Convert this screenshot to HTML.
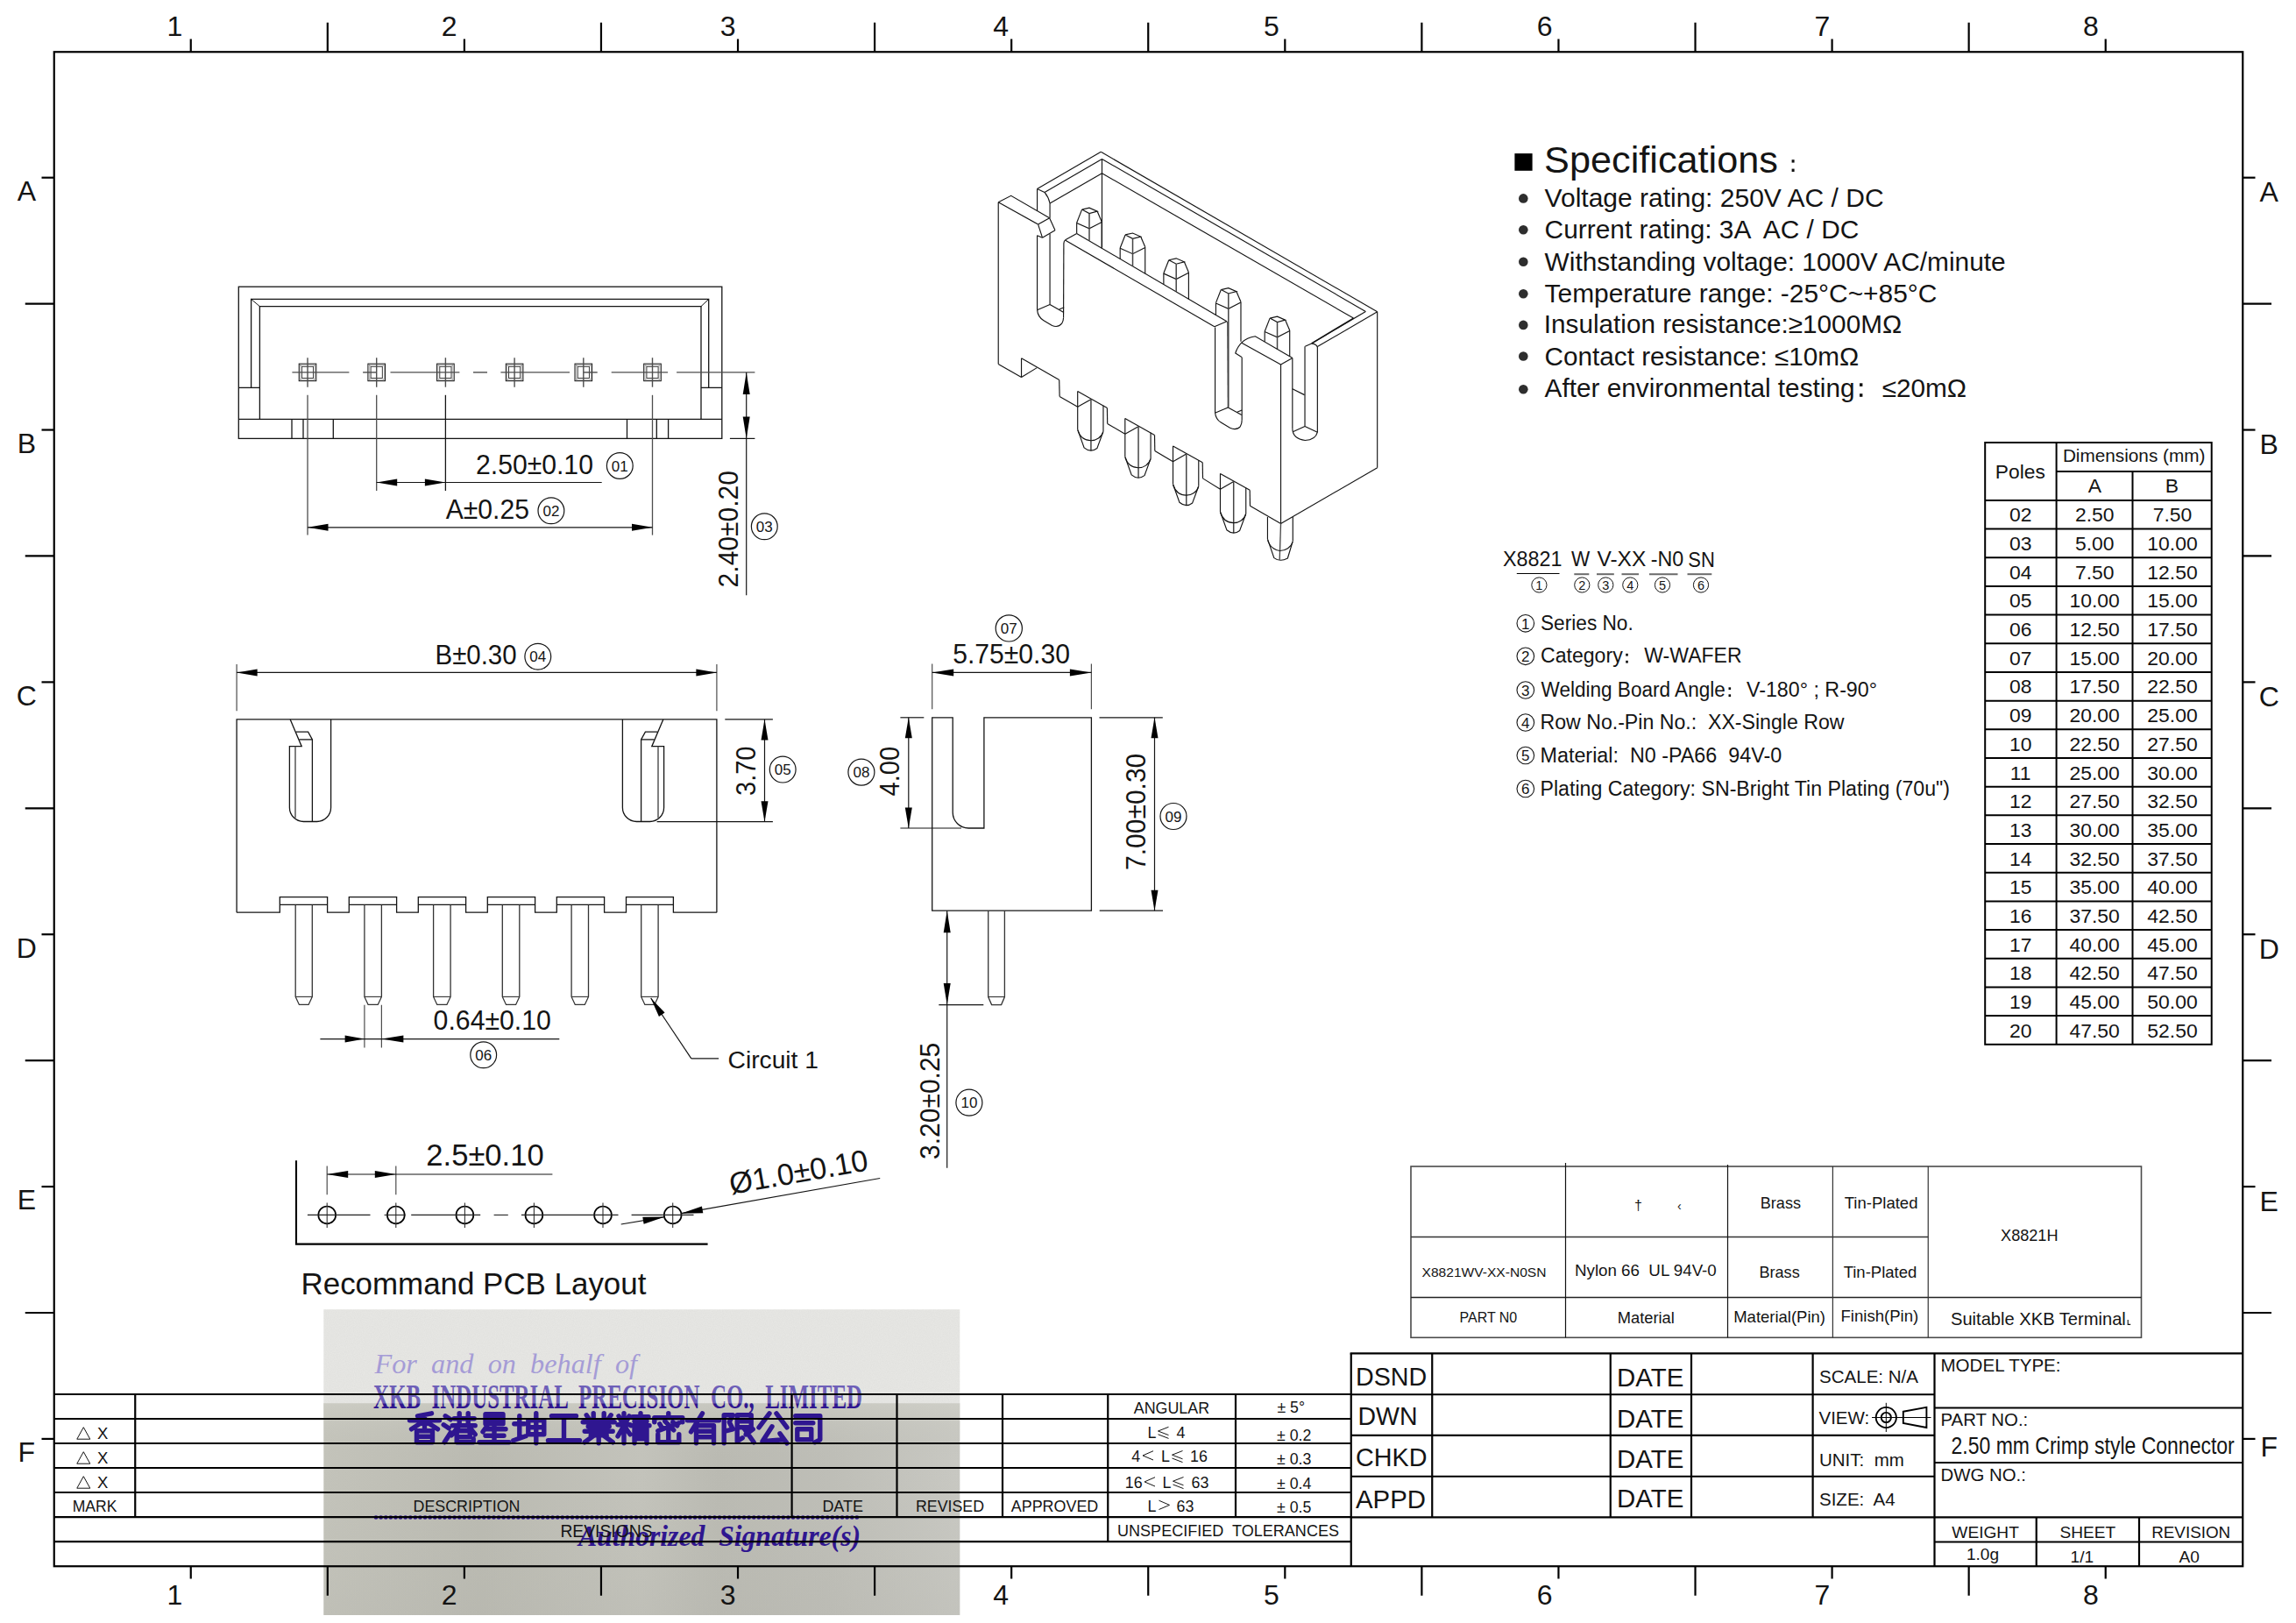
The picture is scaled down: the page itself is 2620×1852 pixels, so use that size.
<!DOCTYPE html>
<html><head><meta charset="utf-8"><title>X8821WV drawing</title>
<style>html,body{margin:0;padding:0;background:#fff;}svg{display:block;font-family:"Liberation Sans",sans-serif;}</style></head>
<body>
<svg width="2620" height="1852" viewBox="0 0 2620 1852">
<rect width="2620" height="1852" fill="#fff"/>
<defs>
<linearGradient id="sg" x1="0" y1="0" x2="1" y2="0"><stop offset="0" stop-color="#c3c3ba"/><stop offset="0.25" stop-color="#babab1"/><stop offset="0.5" stop-color="#c3c3bb"/><stop offset="0.62" stop-color="#babab2"/><stop offset="0.8" stop-color="#bebeb7"/><stop offset="1" stop-color="#c8c8c2"/></linearGradient>
<linearGradient id="sg2" x1="0" y1="0" x2="0" y2="1"><stop offset="0" stop-color="#d2d2ca" stop-opacity="0.55"/><stop offset="0.25" stop-color="#c0c0b8" stop-opacity="0"/><stop offset="1" stop-color="#b4b4ad" stop-opacity="0.25"/></linearGradient>
<filter id="nz" x="0" y="0" width="1" height="1"><feTurbulence type="fractalNoise" baseFrequency="0.9" numOctaves="1" seed="3" result="n"/><feColorMatrix type="matrix" values="0 0 0 0 0.45  0 0 0 0 0.45  0 0 0 0 0.45  0.5 0 0 0 -0.15" /><feComposite operator="in" in2="SourceGraphic"/></filter>
</defs>
<rect x="369.3" y="1494.2" width="726.0" height="107.3" fill="#e6e6e3"/>
<rect x="369.3" y="1494.2" width="726.0" height="107.3" fill="#e6e6e3" filter="url(#nz)" opacity="0.35"/>
<rect x="369.3" y="1601.3" width="726.0" height="241.70000000000005" fill="url(#sg)"/>
<rect x="369.3" y="1601.3" width="726.0" height="241.70000000000005" fill="url(#sg2)"/>
<text x="427.50" y="1567.30" font-size="31" textLength="299.50" lengthAdjust="spacingAndGlyphs" font-family="Liberation Serif, serif" font-style="italic" fill="#a59cd6"  xml:space="preserve">For  and  on  behalf  of</text>
<clipPath id="cu"><rect x="400" y="1570" width="620" height="31.3"/></clipPath><clipPath id="cl"><rect x="400" y="1601.3" width="620" height="20"/></clipPath>
<text x="426.00" y="1607.00" font-size="40" textLength="558.00" lengthAdjust="spacingAndGlyphs" font-family="Liberation Serif, serif" font-weight="bold" fill="#6e5fb8" clip-path="url(#cu)" xml:space="preserve">XKB  INDUSTRIAL  PRECISION  CO.,  LIMITED</text>
<text x="426.00" y="1607.00" font-size="40" textLength="558.00" lengthAdjust="spacingAndGlyphs" font-family="Liberation Serif, serif" font-weight="bold" fill="#2f1690" clip-path="url(#cl)" xml:space="preserve">XKB  INDUSTRIAL  PRECISION  CO.,  LIMITED</text>
<path transform="translate(466.5,1612.8)" d="M10,3 L26,0 M1,8 L35,8 M18,2 L18,18 M17,9 L3,18 M19,9 L33,18 M9,20 L27,20 L27,33 L9,33 Z M9,26.5 L27,26.5" stroke="#2f1690" stroke-width="5.4" stroke-linecap="round" stroke-linejoin="round" fill="none"/>
<path transform="translate(506.2,1612.8)" d="M2,3 L8,7 M0,13 L6,17 M1,33 L8,22 M12,6 L35,6 M10,14 L36,14 M18,0 L18,14 M28,0 L28,14 M18,14 L9,25 M28,14 L36,24 M15,20 L30,20 L30,27 L15,27 Z M15,27 L15,33 L34,33 L34,29" stroke="#2f1690" stroke-width="5.4" stroke-linecap="round" stroke-linejoin="round" fill="none"/>
<path transform="translate(546.0,1612.8)" d="M8,1 L28,1 L28,12 L8,12 Z M8,6.5 L28,6.5 M10,14 L5,21 M8,18 L31,18 M8,25.5 L29,25.5 M1,33 L35,33 M18,13 L18,33" stroke="#2f1690" stroke-width="5.4" stroke-linecap="round" stroke-linejoin="round" fill="none"/>
<path transform="translate(585.8,1612.8)" d="M1,12 L13,12 M7,3 L7,28 M0,31 L14,26 M17,8 L35,8 L35,24 L17,24 Z M17,16 L35,16 M26,0 L26,34" stroke="#2f1690" stroke-width="5.4" stroke-linecap="round" stroke-linejoin="round" fill="none"/>
<path transform="translate(625.5,1612.8)" d="M4,3 L32,3 M18,3 L18,31 M0,31 L36,31" stroke="#2f1690" stroke-width="5.4" stroke-linecap="round" stroke-linejoin="round" fill="none"/>
<path transform="translate(665.2,1612.8)" d="M12,0 L12,10 M24,0 L24,10 M4,2 L8,8 M32,2 L28,8 M0,10 L36,10 M6,15 L30,15 M2,20.5 L34,20.5 M18,10 L18,34 M17,22 L2,33 M19,22 L34,33 M9,25 L27,25" stroke="#2f1690" stroke-width="5.4" stroke-linecap="round" stroke-linejoin="round" fill="none"/>
<path transform="translate(705.0,1612.8)" d="M7,0 L7,34 M0,13 L14,13 M1,3 L4,9 M13,3 L10,9 M7,14 L0,26 M7,14 L14,24 M17,4 L35,4 M19,9 L33,9 M15,14 L36,14 M26,0 L26,14 M19,34 L19,18 L33,18 L33,34 M19,23.5 L33,23.5 M19,29 L33,29" stroke="#2f1690" stroke-width="5.4" stroke-linecap="round" stroke-linejoin="round" fill="none"/>
<path transform="translate(744.8,1612.8)" d="M18,0 L18,4 M2,10 L2,5 L34,5 L34,10 M8,12 L11,17 M14,9 L24,19 M23,10 L28,14 M6,20 L30,11 M18,20 L18,33 M6,24 L6,33 L30,33 L30,24" stroke="#2f1690" stroke-width="5.4" stroke-linecap="round" stroke-linejoin="round" fill="none"/>
<path transform="translate(784.5,1612.8)" d="M0,8 L36,8 M17,0 L4,21 M10,34 L10,14 L30,14 L30,34 M10,20.5 L30,20.5 M10,27 L30,27" stroke="#2f1690" stroke-width="5.4" stroke-linecap="round" stroke-linejoin="round" fill="none"/>
<path transform="translate(824.2,1612.8)" d="M2,2 L2,34 M2,2 L12,2 L8,10 L12,18 L4,20 M17,2 L33,2 L33,16 L17,16 Z M17,9 L33,9 M17,16 L17,32 L23,28 M24,16 L36,33 M35,18 L27,24" stroke="#2f1690" stroke-width="5.4" stroke-linecap="round" stroke-linejoin="round" fill="none"/>
<path transform="translate(864.0,1612.8)" d="M14,0 L2,16 M22,0 L34,16 M17,15 L6,32 L30,30 M26,23 L34,34" stroke="#2f1690" stroke-width="5.4" stroke-linecap="round" stroke-linejoin="round" fill="none"/>
<path transform="translate(903.8,1612.8)" d="M4,3 L32,3 L32,30 L26,33 M4,11 L24,11 M6,18 L22,18 L22,30 L6,30 Z" stroke="#2f1690" stroke-width="5.4" stroke-linecap="round" stroke-linejoin="round" fill="none"/>
<line x1="429" y1="1731.5" x2="982" y2="1731.5" stroke="#2f1690" stroke-width="4.6" stroke-dasharray="0.1 5.5" stroke-linecap="round"/>
<text x="660.00" y="1763.60" font-size="33" textLength="322.00" lengthAdjust="spacingAndGlyphs" font-family="Liberation Serif, serif" font-weight="bold" font-style="italic" fill="#2f1690"  xml:space="preserve">Authorized  Signature(s)</text>
<rect x="61.75" y="59.25" width="2497.50" height="1728.00" stroke="#000" stroke-width="2.2" fill="none"/>
<line x1="217.75" y1="44.50" x2="217.75" y2="59.25" stroke="#000" stroke-width="2.2" />
<line x1="217.75" y1="1787.25" x2="217.75" y2="1801.50" stroke="#000" stroke-width="2.2" />
<text x="190.56" y="40.60" font-size="32" fill="#141414"  xml:space="preserve">1</text>
<text x="190.56" y="1830.90" font-size="32" fill="#141414"  xml:space="preserve">1</text>
<line x1="373.82" y1="25.75" x2="373.82" y2="59.25" stroke="#000" stroke-width="2.2" />
<line x1="373.82" y1="1787.25" x2="373.82" y2="1820.75" stroke="#000" stroke-width="2.2" />
<line x1="529.89" y1="44.50" x2="529.89" y2="59.25" stroke="#000" stroke-width="2.2" />
<line x1="529.89" y1="1787.25" x2="529.89" y2="1801.50" stroke="#000" stroke-width="2.2" />
<text x="503.65" y="40.60" font-size="32" fill="#141414"  xml:space="preserve">2</text>
<text x="503.65" y="1830.90" font-size="32" fill="#141414"  xml:space="preserve">2</text>
<line x1="685.96" y1="25.75" x2="685.96" y2="59.25" stroke="#000" stroke-width="2.2" />
<line x1="685.96" y1="1787.25" x2="685.96" y2="1820.75" stroke="#000" stroke-width="2.2" />
<line x1="842.03" y1="44.50" x2="842.03" y2="59.25" stroke="#000" stroke-width="2.2" />
<line x1="842.03" y1="1787.25" x2="842.03" y2="1801.50" stroke="#000" stroke-width="2.2" />
<text x="821.70" y="40.60" font-size="32" fill="#141414"  xml:space="preserve">3</text>
<text x="821.70" y="1830.90" font-size="32" fill="#141414"  xml:space="preserve">3</text>
<line x1="998.10" y1="25.75" x2="998.10" y2="59.25" stroke="#000" stroke-width="2.2" />
<line x1="998.10" y1="1787.25" x2="998.10" y2="1820.75" stroke="#000" stroke-width="2.2" />
<line x1="1154.17" y1="44.50" x2="1154.17" y2="59.25" stroke="#000" stroke-width="2.2" />
<line x1="1154.17" y1="1787.25" x2="1154.17" y2="1801.50" stroke="#000" stroke-width="2.2" />
<text x="1133.20" y="40.60" font-size="32" fill="#141414"  xml:space="preserve">4</text>
<text x="1133.20" y="1830.90" font-size="32" fill="#141414"  xml:space="preserve">4</text>
<line x1="1310.24" y1="25.75" x2="1310.24" y2="59.25" stroke="#000" stroke-width="2.2" />
<line x1="1310.24" y1="1787.25" x2="1310.24" y2="1820.75" stroke="#000" stroke-width="2.2" />
<line x1="1466.31" y1="44.50" x2="1466.31" y2="59.25" stroke="#000" stroke-width="2.2" />
<line x1="1466.31" y1="1787.25" x2="1466.31" y2="1801.50" stroke="#000" stroke-width="2.2" />
<text x="1441.93" y="40.60" font-size="32" fill="#141414"  xml:space="preserve">5</text>
<text x="1441.93" y="1830.90" font-size="32" fill="#141414"  xml:space="preserve">5</text>
<line x1="1622.38" y1="25.75" x2="1622.38" y2="59.25" stroke="#000" stroke-width="2.2" />
<line x1="1622.38" y1="1787.25" x2="1622.38" y2="1820.75" stroke="#000" stroke-width="2.2" />
<line x1="1778.45" y1="44.50" x2="1778.45" y2="59.25" stroke="#000" stroke-width="2.2" />
<line x1="1778.45" y1="1787.25" x2="1778.45" y2="1801.50" stroke="#000" stroke-width="2.2" />
<text x="1753.84" y="40.60" font-size="32" fill="#141414"  xml:space="preserve">6</text>
<text x="1753.84" y="1830.90" font-size="32" fill="#141414"  xml:space="preserve">6</text>
<line x1="1934.52" y1="25.75" x2="1934.52" y2="59.25" stroke="#000" stroke-width="2.2" />
<line x1="1934.52" y1="1787.25" x2="1934.52" y2="1820.75" stroke="#000" stroke-width="2.2" />
<line x1="2090.59" y1="44.50" x2="2090.59" y2="59.25" stroke="#000" stroke-width="2.2" />
<line x1="2090.59" y1="1787.25" x2="2090.59" y2="1801.50" stroke="#000" stroke-width="2.2" />
<text x="2070.59" y="40.60" font-size="32" fill="#141414"  xml:space="preserve">7</text>
<text x="2070.59" y="1830.90" font-size="32" fill="#141414"  xml:space="preserve">7</text>
<line x1="2246.66" y1="25.75" x2="2246.66" y2="59.25" stroke="#000" stroke-width="2.2" />
<line x1="2246.66" y1="1787.25" x2="2246.66" y2="1820.75" stroke="#000" stroke-width="2.2" />
<line x1="2402.73" y1="44.50" x2="2402.73" y2="59.25" stroke="#000" stroke-width="2.2" />
<line x1="2402.73" y1="1787.25" x2="2402.73" y2="1801.50" stroke="#000" stroke-width="2.2" />
<text x="2377.00" y="40.60" font-size="32" fill="#141414"  xml:space="preserve">8</text>
<text x="2377.00" y="1830.90" font-size="32" fill="#141414"  xml:space="preserve">8</text>
<line x1="47.50" y1="202.70" x2="61.75" y2="202.70" stroke="#000" stroke-width="2.2" />
<line x1="2559.25" y1="202.70" x2="2573.50" y2="202.70" stroke="#000" stroke-width="2.2" />
<text x="30.30" y="229.00" font-size="32" text-anchor="middle" fill="#141414"  xml:space="preserve">A</text>
<text x="2589.20" y="230.30" font-size="32" text-anchor="middle" fill="#141414"  xml:space="preserve">A</text>
<line x1="28.75" y1="346.62" x2="61.75" y2="346.62" stroke="#000" stroke-width="2.2" />
<line x1="2559.25" y1="346.62" x2="2592.00" y2="346.62" stroke="#000" stroke-width="2.2" />
<line x1="47.50" y1="490.54" x2="61.75" y2="490.54" stroke="#000" stroke-width="2.2" />
<line x1="2559.25" y1="490.54" x2="2573.50" y2="490.54" stroke="#000" stroke-width="2.2" />
<text x="30.30" y="516.84" font-size="32" text-anchor="middle" fill="#141414"  xml:space="preserve">B</text>
<text x="2589.20" y="518.14" font-size="32" text-anchor="middle" fill="#141414"  xml:space="preserve">B</text>
<line x1="28.75" y1="634.46" x2="61.75" y2="634.46" stroke="#000" stroke-width="2.2" />
<line x1="2559.25" y1="634.46" x2="2592.00" y2="634.46" stroke="#000" stroke-width="2.2" />
<line x1="47.50" y1="778.38" x2="61.75" y2="778.38" stroke="#000" stroke-width="2.2" />
<line x1="2559.25" y1="778.38" x2="2573.50" y2="778.38" stroke="#000" stroke-width="2.2" />
<text x="30.30" y="804.68" font-size="32" text-anchor="middle" fill="#141414"  xml:space="preserve">C</text>
<text x="2589.20" y="805.98" font-size="32" text-anchor="middle" fill="#141414"  xml:space="preserve">C</text>
<line x1="28.75" y1="922.30" x2="61.75" y2="922.30" stroke="#000" stroke-width="2.2" />
<line x1="2559.25" y1="922.30" x2="2592.00" y2="922.30" stroke="#000" stroke-width="2.2" />
<line x1="47.50" y1="1066.22" x2="61.75" y2="1066.22" stroke="#000" stroke-width="2.2" />
<line x1="2559.25" y1="1066.22" x2="2573.50" y2="1066.22" stroke="#000" stroke-width="2.2" />
<text x="30.30" y="1092.52" font-size="32" text-anchor="middle" fill="#141414"  xml:space="preserve">D</text>
<text x="2589.20" y="1093.82" font-size="32" text-anchor="middle" fill="#141414"  xml:space="preserve">D</text>
<line x1="28.75" y1="1210.14" x2="61.75" y2="1210.14" stroke="#000" stroke-width="2.2" />
<line x1="2559.25" y1="1210.14" x2="2592.00" y2="1210.14" stroke="#000" stroke-width="2.2" />
<line x1="47.50" y1="1354.06" x2="61.75" y2="1354.06" stroke="#000" stroke-width="2.2" />
<line x1="2559.25" y1="1354.06" x2="2573.50" y2="1354.06" stroke="#000" stroke-width="2.2" />
<text x="30.30" y="1380.36" font-size="32" text-anchor="middle" fill="#141414"  xml:space="preserve">E</text>
<text x="2589.20" y="1381.66" font-size="32" text-anchor="middle" fill="#141414"  xml:space="preserve">E</text>
<line x1="28.75" y1="1497.98" x2="61.75" y2="1497.98" stroke="#000" stroke-width="2.2" />
<line x1="2559.25" y1="1497.98" x2="2592.00" y2="1497.98" stroke="#000" stroke-width="2.2" />
<line x1="47.50" y1="1641.90" x2="61.75" y2="1641.90" stroke="#000" stroke-width="2.2" />
<line x1="2559.25" y1="1641.90" x2="2573.50" y2="1641.90" stroke="#000" stroke-width="2.2" />
<text x="30.30" y="1668.20" font-size="32" text-anchor="middle" fill="#141414"  xml:space="preserve">F</text>
<text x="2589.20" y="1662.20" font-size="32" text-anchor="middle" fill="#141414"  xml:space="preserve">F</text>
<line x1="61.75" y1="1591.00" x2="1541.75" y2="1591.00" stroke="#000" stroke-width="2.2" />
<line x1="61.75" y1="1619.00" x2="1541.75" y2="1619.00" stroke="#000" stroke-width="2.2" />
<line x1="61.75" y1="1647.00" x2="1541.75" y2="1647.00" stroke="#000" stroke-width="2.2" />
<line x1="61.75" y1="1675.00" x2="1541.75" y2="1675.00" stroke="#000" stroke-width="2.2" />
<line x1="61.75" y1="1703.00" x2="1541.75" y2="1703.00" stroke="#000" stroke-width="2.2" />
<line x1="61.75" y1="1731.20" x2="1541.75" y2="1731.20" stroke="#000" stroke-width="2.2" />
<line x1="61.75" y1="1759.20" x2="1541.75" y2="1759.20" stroke="#000" stroke-width="2.2" />
<line x1="154.25" y1="1591.00" x2="154.25" y2="1731.20" stroke="#000" stroke-width="2.2" />
<line x1="903.60" y1="1591.00" x2="903.60" y2="1731.20" stroke="#000" stroke-width="2.2" />
<line x1="1023.50" y1="1591.00" x2="1023.50" y2="1731.20" stroke="#000" stroke-width="2.2" />
<line x1="1144.00" y1="1591.00" x2="1144.00" y2="1731.20" stroke="#000" stroke-width="2.2" />
<line x1="1410.00" y1="1591.00" x2="1410.00" y2="1731.20" stroke="#000" stroke-width="2.2" />
<line x1="1264.25" y1="1591.00" x2="1264.25" y2="1759.20" stroke="#000" stroke-width="2.2" />
<path d="M87.80,1642.20 L95.30,1628.70 L102.80,1642.20 Z" stroke="#141414" stroke-width="1.0" fill="none" />
<text x="111.00" y="1642.40" font-size="18.5" fill="#141414"  xml:space="preserve">X</text>
<path d="M87.80,1670.20 L95.30,1656.70 L102.80,1670.20 Z" stroke="#141414" stroke-width="1.0" fill="none" />
<text x="111.00" y="1670.40" font-size="18.5" fill="#141414"  xml:space="preserve">X</text>
<path d="M87.80,1698.20 L95.30,1684.70 L102.80,1698.20 Z" stroke="#141414" stroke-width="1.0" fill="none" />
<text x="111.00" y="1698.40" font-size="18.5" fill="#141414"  xml:space="preserve">X</text>
<text x="108.00" y="1725.00" font-size="17.7" text-anchor="middle" textLength="50.75" lengthAdjust="spacingAndGlyphs" fill="#141414"  xml:space="preserve">MARK</text>
<text x="532.50" y="1724.90" font-size="17.85" text-anchor="middle" textLength="122.00" lengthAdjust="spacingAndGlyphs" fill="#141414"  xml:space="preserve">DESCRIPTION</text>
<text x="961.70" y="1725.00" font-size="17.6" text-anchor="middle" textLength="46.60" lengthAdjust="spacingAndGlyphs" fill="#141414"  xml:space="preserve">DATE</text>
<text x="1084.00" y="1724.60" font-size="17.8" text-anchor="middle" textLength="78.00" lengthAdjust="spacingAndGlyphs" fill="#141414"  xml:space="preserve">REVISED</text>
<text x="1203.50" y="1724.60" font-size="17.9" text-anchor="middle" textLength="99.50" lengthAdjust="spacingAndGlyphs" fill="#141414"  xml:space="preserve">APPROVED</text>
<text x="692.00" y="1753.50" font-size="19.3" text-anchor="middle" textLength="105.10" lengthAdjust="spacingAndGlyphs" fill="#141414"  xml:space="preserve">REVISIONS</text>
<text x="1336.90" y="1612.60" font-size="17.85" text-anchor="middle" textLength="86.25" lengthAdjust="spacingAndGlyphs" fill="#141414"  xml:space="preserve">ANGULAR</text>
<text x="1457.50" y="1612.00" font-size="18" textLength="31.50" lengthAdjust="spacingAndGlyphs" fill="#141414"  xml:space="preserve">± 5°</text>
<text x="1309.50" y="1640.80" font-size="17.85" fill="#141414"  xml:space="preserve">L</text>
<path d="M1333.50,1628.30 L1321.50,1633.00 L1333.50,1637.60 M1321.50,1636.80 L1333.50,1641.40" stroke="#141414" stroke-width="1.0" fill="none" />
<text x="1342.50" y="1640.80" font-size="17.85" fill="#141414"  xml:space="preserve">4</text>
<text x="1457.00" y="1643.80" font-size="18" textLength="39.30" lengthAdjust="spacingAndGlyphs" fill="#141414"  xml:space="preserve">± 0.2</text>
<text x="1291.30" y="1668.00" font-size="17.85" fill="#141414"  xml:space="preserve">4</text>
<path d="M1316.00,1655.70 L1304.00,1660.90 L1316.00,1666.00" stroke="#141414" stroke-width="1.0" fill="none" />
<text x="1325.00" y="1668.00" font-size="17.85" fill="#141414"  xml:space="preserve">L</text>
<path d="M1349.50,1655.50 L1337.50,1660.20 L1349.50,1664.80 M1337.50,1664.00 L1349.50,1668.60" stroke="#141414" stroke-width="1.0" fill="none" />
<text x="1358.00" y="1668.00" font-size="17.85" fill="#141414"  xml:space="preserve">16</text>
<text x="1457.00" y="1671.30" font-size="18" textLength="39.30" lengthAdjust="spacingAndGlyphs" fill="#141414"  xml:space="preserve">± 0.3</text>
<text x="1283.80" y="1698.00" font-size="17.85" fill="#141414"  xml:space="preserve">16</text>
<path d="M1318.00,1685.70 L1306.00,1690.90 L1318.00,1696.00" stroke="#141414" stroke-width="1.0" fill="none" />
<text x="1326.50" y="1698.00" font-size="17.85" fill="#141414"  xml:space="preserve">L</text>
<path d="M1350.50,1685.50 L1338.50,1690.20 L1350.50,1694.80 M1338.50,1694.00 L1350.50,1698.60" stroke="#141414" stroke-width="1.0" fill="none" />
<text x="1359.50" y="1698.00" font-size="17.85" fill="#141414"  xml:space="preserve">63</text>
<text x="1457.00" y="1698.80" font-size="18" textLength="39.30" lengthAdjust="spacingAndGlyphs" fill="#141414"  xml:space="preserve">± 0.4</text>
<text x="1309.50" y="1724.50" font-size="17.85" fill="#141414"  xml:space="preserve">L</text>
<path d="M1322.50,1712.20 L1334.50,1717.40 L1322.50,1722.50" stroke="#141414" stroke-width="1.0" fill="none" />
<text x="1342.50" y="1724.50" font-size="17.85" fill="#141414"  xml:space="preserve">63</text>
<text x="1457.00" y="1725.50" font-size="18" textLength="39.30" lengthAdjust="spacingAndGlyphs" fill="#141414"  xml:space="preserve">± 0.5</text>
<text x="1275.00" y="1753.30" font-size="18" textLength="253.00" lengthAdjust="spacingAndGlyphs" fill="#141414"  xml:space="preserve">UNSPECIFIED  TOLERANCES</text>
<line x1="1541.75" y1="1544.30" x2="1541.75" y2="1787.25" stroke="#000" stroke-width="2.2" />
<line x1="1540.65" y1="1544.30" x2="2559.25" y2="1544.30" stroke="#000" stroke-width="2.2" />
<line x1="1541.75" y1="1591.25" x2="2207.50" y2="1591.25" stroke="#000" stroke-width="2.2" />
<line x1="1541.75" y1="1637.90" x2="2207.50" y2="1637.90" stroke="#000" stroke-width="2.2" />
<line x1="1541.75" y1="1684.75" x2="2207.50" y2="1684.75" stroke="#000" stroke-width="2.2" />
<line x1="1541.75" y1="1731.40" x2="2207.50" y2="1731.40" stroke="#000" stroke-width="2.2" />
<line x1="1634.25" y1="1544.30" x2="1634.25" y2="1731.40" stroke="#000" stroke-width="2.2" />
<line x1="1837.75" y1="1544.30" x2="1837.75" y2="1731.40" stroke="#000" stroke-width="2.2" />
<line x1="1930.00" y1="1544.30" x2="1930.00" y2="1731.40" stroke="#000" stroke-width="2.2" />
<line x1="2068.60" y1="1544.30" x2="2068.60" y2="1731.40" stroke="#000" stroke-width="2.2" />
<line x1="2207.50" y1="1544.30" x2="2207.50" y2="1787.25" stroke="#000" stroke-width="2.2" />
<text x="1547.00" y="1580.80" font-size="28.6" textLength="81.25" lengthAdjust="spacingAndGlyphs" fill="#141414"  xml:space="preserve">DSND</text>
<text x="1549.50" y="1626.30" font-size="28.6" textLength="68.00" lengthAdjust="spacingAndGlyphs" fill="#141414"  xml:space="preserve">DWN</text>
<text x="1547.00" y="1673.30" font-size="28.6" textLength="81.50" lengthAdjust="spacingAndGlyphs" fill="#141414"  xml:space="preserve">CHKD</text>
<text x="1547.00" y="1720.80" font-size="28.6" textLength="80.00" lengthAdjust="spacingAndGlyphs" fill="#141414"  xml:space="preserve">APPD</text>
<text x="1845.00" y="1581.80" font-size="28.6" textLength="76.25" lengthAdjust="spacingAndGlyphs" fill="#141414"  xml:space="preserve">DATE</text>
<text x="1845.00" y="1628.80" font-size="28.6" textLength="76.25" lengthAdjust="spacingAndGlyphs" fill="#141414"  xml:space="preserve">DATE</text>
<text x="1845.00" y="1675.00" font-size="28.6" textLength="76.25" lengthAdjust="spacingAndGlyphs" fill="#141414"  xml:space="preserve">DATE</text>
<text x="1845.00" y="1720.20" font-size="28.6" textLength="76.25" lengthAdjust="spacingAndGlyphs" fill="#141414"  xml:space="preserve">DATE</text>
<text x="2076.00" y="1577.50" font-size="20.5" textLength="113.00" lengthAdjust="spacingAndGlyphs" fill="#141414"  xml:space="preserve">SCALE: N/A</text>
<text x="2075.50" y="1624.50" font-size="20.5" fill="#141414"  xml:space="preserve">VIEW:</text>
<text x="2076.00" y="1672.80" font-size="20.5" fill="#141414"  xml:space="preserve">UNIT:  mm</text>
<text x="2076.00" y="1717.80" font-size="20.5" fill="#141414"  xml:space="preserve">SIZE:  A4</text>
<circle cx="2152.30" cy="1617.50" r="11.60" stroke="#000" stroke-width="1.9" fill="none"/>
<circle cx="2152.30" cy="1617.50" r="5.60" stroke="#000" stroke-width="1.9" fill="none"/>
<line x1="2136.00" y1="1617.50" x2="2203.50" y2="1617.50" stroke="#000" stroke-width="1.0" />
<line x1="2152.30" y1="1600.80" x2="2152.30" y2="1634.00" stroke="#000" stroke-width="1.0" />
<path d="M2171.80,1610.80 L2198.40,1605.80 L2198.40,1629.00 L2171.80,1624.00 Z" stroke="#000" stroke-width="1.9" fill="none" />
<line x1="2207.50" y1="1606.50" x2="2559.25" y2="1606.50" stroke="#000" stroke-width="2.2" />
<line x1="2207.50" y1="1669.00" x2="2559.25" y2="1669.00" stroke="#000" stroke-width="2.2" />
<line x1="2207.50" y1="1731.40" x2="2559.25" y2="1731.40" stroke="#000" stroke-width="2.2" />
<line x1="2207.50" y1="1759.50" x2="2559.25" y2="1759.50" stroke="#000" stroke-width="2.2" />
<line x1="2323.75" y1="1731.40" x2="2323.75" y2="1787.25" stroke="#000" stroke-width="2.2" />
<line x1="2441.00" y1="1731.40" x2="2441.00" y2="1787.25" stroke="#000" stroke-width="2.2" />
<text x="2214.50" y="1564.50" font-size="20.4" textLength="137.00" lengthAdjust="spacingAndGlyphs" fill="#141414"  xml:space="preserve">MODEL TYPE:</text>
<text x="2214.50" y="1626.50" font-size="20.4" fill="#141414"  xml:space="preserve">PART NO.:</text>
<text x="2226.50" y="1659.00" font-size="27.5" textLength="323.25" lengthAdjust="spacingAndGlyphs" fill="#141414"  xml:space="preserve">2.50 mm Crimp style Connector</text>
<text x="2214.50" y="1690.30" font-size="20.4" fill="#141414"  xml:space="preserve">DWG NO.:</text>
<text x="2265.60" y="1755.00" font-size="19.1" text-anchor="middle" textLength="76.50" lengthAdjust="spacingAndGlyphs" fill="#141414"  xml:space="preserve">WEIGHT</text>
<text x="2382.40" y="1755.00" font-size="19.1" text-anchor="middle" fill="#141414"  xml:space="preserve">SHEET</text>
<text x="2500.20" y="1755.00" font-size="18.9" text-anchor="middle" textLength="90.00" lengthAdjust="spacingAndGlyphs" fill="#141414"  xml:space="preserve">REVISION</text>
<text x="2262.50" y="1779.50" font-size="19.1" text-anchor="middle" fill="#141414"  xml:space="preserve">1.0g</text>
<text x="2375.80" y="1783.20" font-size="19.1" text-anchor="middle" fill="#141414"  xml:space="preserve">1/1</text>
<text x="2498.30" y="1783.00" font-size="19.1" text-anchor="middle" fill="#141414"  xml:space="preserve">A0</text>
<rect x="1610.00" y="1331.00" width="833.50" height="195.30" stroke="#4a4a4a" stroke-width="1.6" fill="none"/>
<line x1="1610.00" y1="1411.50" x2="2200.25" y2="1411.50" stroke="#333" stroke-width="1.3" />
<line x1="1610.00" y1="1480.50" x2="2443.50" y2="1480.50" stroke="#222" stroke-width="1.3" />
<line x1="1786.50" y1="1327.00" x2="1786.50" y2="1526.30" stroke="#111" stroke-width="1.2" />
<line x1="1971.50" y1="1329.00" x2="1971.50" y2="1526.30" stroke="#111" stroke-width="1.2" />
<line x1="2091.40" y1="1331.00" x2="2091.40" y2="1526.30" stroke="#333" stroke-width="1.2" />
<line x1="2200.25" y1="1331.00" x2="2200.25" y2="1526.30" stroke="#333" stroke-width="1.2" />
<text x="1865.00" y="1380.80" font-size="16" fill="#141414"  xml:space="preserve">†</text>
<text x="1914.00" y="1380.50" font-size="14" fill="#141414"  xml:space="preserve">‹</text>
<text x="2031.90" y="1378.80" font-size="18.2" text-anchor="middle" textLength="46.25" lengthAdjust="spacingAndGlyphs" fill="#141414"  xml:space="preserve">Brass</text>
<text x="2146.60" y="1378.80" font-size="18.4" text-anchor="middle" textLength="83.75" lengthAdjust="spacingAndGlyphs" fill="#141414"  xml:space="preserve">Tin-Plated</text>
<text x="2315.80" y="1415.80" font-size="18.1" text-anchor="middle" textLength="65.50" lengthAdjust="spacingAndGlyphs" fill="#141414"  xml:space="preserve">X8821H</text>
<text x="1693.50" y="1457.00" font-size="15.5" text-anchor="middle" textLength="142.00" lengthAdjust="spacingAndGlyphs" fill="#141414"  xml:space="preserve">X8821WV-XX-N0SN</text>
<text x="1877.90" y="1455.80" font-size="18.5" text-anchor="middle" textLength="161.75" lengthAdjust="spacingAndGlyphs" fill="#141414"  xml:space="preserve">Nylon 66  UL 94V-0</text>
<text x="2030.60" y="1458.00" font-size="18.2" text-anchor="middle" textLength="46.25" lengthAdjust="spacingAndGlyphs" fill="#141414"  xml:space="preserve">Brass</text>
<text x="2145.50" y="1458.00" font-size="18.4" text-anchor="middle" textLength="83.75" lengthAdjust="spacingAndGlyphs" fill="#141414"  xml:space="preserve">Tin-Plated</text>
<text x="1698.40" y="1509.30" font-size="15.6" text-anchor="middle" textLength="65.75" lengthAdjust="spacingAndGlyphs" fill="#141414"  xml:space="preserve">PART N0</text>
<text x="1878.30" y="1510.00" font-size="18.3" text-anchor="middle" textLength="65.00" lengthAdjust="spacingAndGlyphs" fill="#141414"  xml:space="preserve">Material</text>
<text x="2030.60" y="1508.80" font-size="18.5" text-anchor="middle" textLength="104.75" lengthAdjust="spacingAndGlyphs" fill="#141414"  xml:space="preserve">Material(Pin)</text>
<text x="2144.90" y="1508.30" font-size="18.5" text-anchor="middle" textLength="88.75" lengthAdjust="spacingAndGlyphs" fill="#141414"  xml:space="preserve">Finish(Pin)</text>
<text x="2226.00" y="1512.00" font-size="20.2" textLength="199.80" lengthAdjust="spacingAndGlyphs" fill="#141414"  xml:space="preserve">Suitable XKB Terminal</text>
<path d="M2428.2,1506 L2428.2,1511.4 L2431.2,1511.4" stroke="#141414" stroke-width="1.1" fill="none" />
<rect x="2265.20" y="505.00" width="258.50" height="686.80" stroke="#000" stroke-width="2.0" fill="none"/>
<line x1="2346.60" y1="505.00" x2="2346.60" y2="1191.80" stroke="#000" stroke-width="2.0" />
<line x1="2433.50" y1="538.00" x2="2433.50" y2="1191.80" stroke="#000" stroke-width="2.0" />
<line x1="2346.60" y1="538.00" x2="2523.70" y2="538.00" stroke="#000" stroke-width="2.0" />
<line x1="2265.20" y1="570.90" x2="2523.70" y2="570.90" stroke="#000" stroke-width="2.0" />
<line x1="2265.20" y1="603.58" x2="2523.70" y2="603.58" stroke="#000" stroke-width="2.0" />
<line x1="2265.20" y1="636.26" x2="2523.70" y2="636.26" stroke="#000" stroke-width="2.0" />
<line x1="2265.20" y1="668.94" x2="2523.70" y2="668.94" stroke="#000" stroke-width="2.0" />
<line x1="2265.20" y1="701.62" x2="2523.70" y2="701.62" stroke="#000" stroke-width="2.0" />
<line x1="2265.20" y1="734.29" x2="2523.70" y2="734.29" stroke="#000" stroke-width="2.0" />
<line x1="2265.20" y1="766.97" x2="2523.70" y2="766.97" stroke="#000" stroke-width="2.0" />
<line x1="2265.20" y1="799.65" x2="2523.70" y2="799.65" stroke="#000" stroke-width="2.0" />
<line x1="2265.20" y1="832.33" x2="2523.70" y2="832.33" stroke="#000" stroke-width="2.0" />
<line x1="2265.20" y1="865.01" x2="2523.70" y2="865.01" stroke="#000" stroke-width="2.0" />
<line x1="2265.20" y1="897.69" x2="2523.70" y2="897.69" stroke="#000" stroke-width="2.0" />
<line x1="2265.20" y1="930.37" x2="2523.70" y2="930.37" stroke="#000" stroke-width="2.0" />
<line x1="2265.20" y1="963.05" x2="2523.70" y2="963.05" stroke="#000" stroke-width="2.0" />
<line x1="2265.20" y1="995.73" x2="2523.70" y2="995.73" stroke="#000" stroke-width="2.0" />
<line x1="2265.20" y1="1028.41" x2="2523.70" y2="1028.41" stroke="#000" stroke-width="2.0" />
<line x1="2265.20" y1="1061.08" x2="2523.70" y2="1061.08" stroke="#000" stroke-width="2.0" />
<line x1="2265.20" y1="1093.76" x2="2523.70" y2="1093.76" stroke="#000" stroke-width="2.0" />
<line x1="2265.20" y1="1126.44" x2="2523.70" y2="1126.44" stroke="#000" stroke-width="2.0" />
<line x1="2265.20" y1="1159.12" x2="2523.70" y2="1159.12" stroke="#000" stroke-width="2.0" />
<text x="2305.30" y="546.20" font-size="22.8" text-anchor="middle" textLength="57.00" lengthAdjust="spacingAndGlyphs" fill="#141414"  xml:space="preserve">Poles</text>
<text x="2435.15" y="526.70" font-size="20.7" text-anchor="middle" textLength="162.50" lengthAdjust="spacingAndGlyphs" fill="#141414"  xml:space="preserve">Dimensions (mm)</text>
<text x="2390.30" y="562.40" font-size="22.9" text-anchor="middle" fill="#141414"  xml:space="preserve">A</text>
<text x="2478.40" y="562.40" font-size="22.9" text-anchor="middle" fill="#141414"  xml:space="preserve">B</text>
<text x="2305.70" y="595.40" font-size="22.9" text-anchor="middle" fill="#141414"  xml:space="preserve">02</text>
<text x="2390.20" y="595.40" font-size="22.9" text-anchor="middle" fill="#141414"  xml:space="preserve">2.50</text>
<text x="2479.00" y="595.40" font-size="22.9" text-anchor="middle" fill="#141414"  xml:space="preserve">7.50</text>
<text x="2305.70" y="628.08" font-size="22.9" text-anchor="middle" fill="#141414"  xml:space="preserve">03</text>
<text x="2390.20" y="628.08" font-size="22.9" text-anchor="middle" fill="#141414"  xml:space="preserve">5.00</text>
<text x="2479.00" y="628.08" font-size="22.9" text-anchor="middle" fill="#141414"  xml:space="preserve">10.00</text>
<text x="2305.70" y="660.76" font-size="22.9" text-anchor="middle" fill="#141414"  xml:space="preserve">04</text>
<text x="2390.20" y="660.76" font-size="22.9" text-anchor="middle" fill="#141414"  xml:space="preserve">7.50</text>
<text x="2479.00" y="660.76" font-size="22.9" text-anchor="middle" fill="#141414"  xml:space="preserve">12.50</text>
<text x="2305.70" y="693.44" font-size="22.9" text-anchor="middle" fill="#141414"  xml:space="preserve">05</text>
<text x="2390.20" y="693.44" font-size="22.9" text-anchor="middle" fill="#141414"  xml:space="preserve">10.00</text>
<text x="2479.00" y="693.44" font-size="22.9" text-anchor="middle" fill="#141414"  xml:space="preserve">15.00</text>
<text x="2305.70" y="726.12" font-size="22.9" text-anchor="middle" fill="#141414"  xml:space="preserve">06</text>
<text x="2390.20" y="726.12" font-size="22.9" text-anchor="middle" fill="#141414"  xml:space="preserve">12.50</text>
<text x="2479.00" y="726.12" font-size="22.9" text-anchor="middle" fill="#141414"  xml:space="preserve">17.50</text>
<text x="2305.70" y="758.79" font-size="22.9" text-anchor="middle" fill="#141414"  xml:space="preserve">07</text>
<text x="2390.20" y="758.79" font-size="22.9" text-anchor="middle" fill="#141414"  xml:space="preserve">15.00</text>
<text x="2479.00" y="758.79" font-size="22.9" text-anchor="middle" fill="#141414"  xml:space="preserve">20.00</text>
<text x="2305.70" y="791.47" font-size="22.9" text-anchor="middle" fill="#141414"  xml:space="preserve">08</text>
<text x="2390.20" y="791.47" font-size="22.9" text-anchor="middle" fill="#141414"  xml:space="preserve">17.50</text>
<text x="2479.00" y="791.47" font-size="22.9" text-anchor="middle" fill="#141414"  xml:space="preserve">22.50</text>
<text x="2305.70" y="824.15" font-size="22.9" text-anchor="middle" fill="#141414"  xml:space="preserve">09</text>
<text x="2390.20" y="824.15" font-size="22.9" text-anchor="middle" fill="#141414"  xml:space="preserve">20.00</text>
<text x="2479.00" y="824.15" font-size="22.9" text-anchor="middle" fill="#141414"  xml:space="preserve">25.00</text>
<text x="2305.70" y="856.83" font-size="22.9" text-anchor="middle" fill="#141414"  xml:space="preserve">10</text>
<text x="2390.20" y="856.83" font-size="22.9" text-anchor="middle" fill="#141414"  xml:space="preserve">22.50</text>
<text x="2479.00" y="856.83" font-size="22.9" text-anchor="middle" fill="#141414"  xml:space="preserve">27.50</text>
<text x="2305.70" y="889.51" font-size="22.9" text-anchor="middle" fill="#141414"  xml:space="preserve">11</text>
<text x="2390.20" y="889.51" font-size="22.9" text-anchor="middle" fill="#141414"  xml:space="preserve">25.00</text>
<text x="2479.00" y="889.51" font-size="22.9" text-anchor="middle" fill="#141414"  xml:space="preserve">30.00</text>
<text x="2305.70" y="922.19" font-size="22.9" text-anchor="middle" fill="#141414"  xml:space="preserve">12</text>
<text x="2390.20" y="922.19" font-size="22.9" text-anchor="middle" fill="#141414"  xml:space="preserve">27.50</text>
<text x="2479.00" y="922.19" font-size="22.9" text-anchor="middle" fill="#141414"  xml:space="preserve">32.50</text>
<text x="2305.70" y="954.87" font-size="22.9" text-anchor="middle" fill="#141414"  xml:space="preserve">13</text>
<text x="2390.20" y="954.87" font-size="22.9" text-anchor="middle" fill="#141414"  xml:space="preserve">30.00</text>
<text x="2479.00" y="954.87" font-size="22.9" text-anchor="middle" fill="#141414"  xml:space="preserve">35.00</text>
<text x="2305.70" y="987.55" font-size="22.9" text-anchor="middle" fill="#141414"  xml:space="preserve">14</text>
<text x="2390.20" y="987.55" font-size="22.9" text-anchor="middle" fill="#141414"  xml:space="preserve">32.50</text>
<text x="2479.00" y="987.55" font-size="22.9" text-anchor="middle" fill="#141414"  xml:space="preserve">37.50</text>
<text x="2305.70" y="1020.23" font-size="22.9" text-anchor="middle" fill="#141414"  xml:space="preserve">15</text>
<text x="2390.20" y="1020.23" font-size="22.9" text-anchor="middle" fill="#141414"  xml:space="preserve">35.00</text>
<text x="2479.00" y="1020.23" font-size="22.9" text-anchor="middle" fill="#141414"  xml:space="preserve">40.00</text>
<text x="2305.70" y="1052.91" font-size="22.9" text-anchor="middle" fill="#141414"  xml:space="preserve">16</text>
<text x="2390.20" y="1052.91" font-size="22.9" text-anchor="middle" fill="#141414"  xml:space="preserve">37.50</text>
<text x="2479.00" y="1052.91" font-size="22.9" text-anchor="middle" fill="#141414"  xml:space="preserve">42.50</text>
<text x="2305.70" y="1085.58" font-size="22.9" text-anchor="middle" fill="#141414"  xml:space="preserve">17</text>
<text x="2390.20" y="1085.58" font-size="22.9" text-anchor="middle" fill="#141414"  xml:space="preserve">40.00</text>
<text x="2479.00" y="1085.58" font-size="22.9" text-anchor="middle" fill="#141414"  xml:space="preserve">45.00</text>
<text x="2305.70" y="1118.26" font-size="22.9" text-anchor="middle" fill="#141414"  xml:space="preserve">18</text>
<text x="2390.20" y="1118.26" font-size="22.9" text-anchor="middle" fill="#141414"  xml:space="preserve">42.50</text>
<text x="2479.00" y="1118.26" font-size="22.9" text-anchor="middle" fill="#141414"  xml:space="preserve">47.50</text>
<text x="2305.70" y="1150.94" font-size="22.9" text-anchor="middle" fill="#141414"  xml:space="preserve">19</text>
<text x="2390.20" y="1150.94" font-size="22.9" text-anchor="middle" fill="#141414"  xml:space="preserve">45.00</text>
<text x="2479.00" y="1150.94" font-size="22.9" text-anchor="middle" fill="#141414"  xml:space="preserve">50.00</text>
<text x="2305.70" y="1183.62" font-size="22.9" text-anchor="middle" fill="#141414"  xml:space="preserve">20</text>
<text x="2390.20" y="1183.62" font-size="22.9" text-anchor="middle" fill="#141414"  xml:space="preserve">47.50</text>
<text x="2479.00" y="1183.62" font-size="22.9" text-anchor="middle" fill="#141414"  xml:space="preserve">52.50</text>
<rect x="1728.4" y="175.1" width="20.2" height="19.7" fill="#000"/>
<text x="1762.10" y="196.70" font-size="43.2" textLength="266.80" lengthAdjust="spacingAndGlyphs" fill="#141414"  xml:space="preserve">Specifications</text>
<rect x="2044.6" y="182.2" width="3" height="3.4" fill="#111"/><rect x="2044.6" y="192.6" width="3" height="3.4" fill="#111"/>
<circle cx="1738.3" cy="226.4" r="5.3" fill="#2e2e2e"/>
<text x="1762.60" y="236.40" font-size="29.75" textLength="387.00" lengthAdjust="spacingAndGlyphs" fill="#141414"  xml:space="preserve">Voltage rating: 250V AC / DC</text>
<circle cx="1738.3" cy="262.3" r="5.3" fill="#2e2e2e"/>
<text x="1762.60" y="272.40" font-size="29.75" textLength="358.70" lengthAdjust="spacingAndGlyphs" fill="#141414"  xml:space="preserve">Current rating: 3A  AC / DC</text>
<circle cx="1738.3" cy="298.8" r="5.3" fill="#2e2e2e"/>
<text x="1762.60" y="308.70" font-size="29.75" textLength="526.10" lengthAdjust="spacingAndGlyphs" fill="#141414"  xml:space="preserve">Withstanding voltage: 1000V AC/minute</text>
<circle cx="1738.3" cy="335.2" r="5.3" fill="#2e2e2e"/>
<text x="1762.60" y="345.10" font-size="29.75" textLength="447.80" lengthAdjust="spacingAndGlyphs" fill="#141414"  xml:space="preserve">Temperature range: -25°C~+85°C</text>
<circle cx="1738.3" cy="370.9" r="5.3" fill="#2e2e2e"/>
<text x="1761.80" y="380.40" font-size="29.75" textLength="408.30" lengthAdjust="spacingAndGlyphs" fill="#141414"  xml:space="preserve">Insulation resistance:≥1000MΩ</text>
<circle cx="1738.3" cy="406.5" r="5.3" fill="#2e2e2e"/>
<text x="1762.60" y="416.80" font-size="29.75" textLength="358.70" lengthAdjust="spacingAndGlyphs" fill="#141414"  xml:space="preserve">Contact resistance: ≤10mΩ</text>
<circle cx="1738.3" cy="444.3" r="5.3" fill="#2e2e2e"/>
<text x="1762.60" y="453.20" font-size="29.75" fill="#141414"  xml:space="preserve">After environmental testing</text>
<rect x="2122.0" y="437.3" width="3.4" height="3.6" fill="#111"/><rect x="2122.0" y="449.2" width="3.4" height="3.6" fill="#111"/>
<text x="2244.10" y="453.20" font-size="29.75" text-anchor="end" fill="#141414"  xml:space="preserve">≤20mΩ</text>
<text x="1715.00" y="645.80" font-size="23.3" textLength="67.50" lengthAdjust="spacingAndGlyphs" fill="#141414"  xml:space="preserve">X8821</text>
<text x="1793.00" y="645.80" font-size="23.3" textLength="21.25" lengthAdjust="spacingAndGlyphs" fill="#141414"  xml:space="preserve">W</text>
<text x="1822.50" y="645.80" font-size="23.3" textLength="55.75" lengthAdjust="spacingAndGlyphs" fill="#141414"  xml:space="preserve">V-XX</text>
<text x="1883.80" y="645.80" font-size="23.3" textLength="37.50" lengthAdjust="spacingAndGlyphs" fill="#141414"  xml:space="preserve">-N0</text>
<text x="1926.30" y="647.00" font-size="23" textLength="30.50" lengthAdjust="spacingAndGlyphs" fill="#141414"  xml:space="preserve">SN</text>
<line x1="1730.80" y1="654.50" x2="1779.50" y2="654.50" stroke="#000" stroke-width="1.0" />
<line x1="1796.30" y1="655.20" x2="1813.30" y2="655.20" stroke="#6a6a6a" stroke-width="2.0" />
<line x1="1822.00" y1="655.20" x2="1841.80" y2="655.20" stroke="#6a6a6a" stroke-width="2.0" />
<line x1="1850.50" y1="655.20" x2="1870.00" y2="655.20" stroke="#6a6a6a" stroke-width="2.0" />
<line x1="1882.00" y1="655.20" x2="1914.50" y2="655.20" stroke="#6a6a6a" stroke-width="2.0" />
<line x1="1925.50" y1="655.20" x2="1953.30" y2="655.20" stroke="#6a6a6a" stroke-width="2.0" />
<circle cx="1756.40" cy="667.50" r="8.60" stroke="#141414" stroke-width="1.0" fill="none"/>
<text x="1756.40" y="672.80" font-size="14.5" text-anchor="middle" fill="#141414"  xml:space="preserve">1</text>
<circle cx="1805.30" cy="667.50" r="8.60" stroke="#141414" stroke-width="1.0" fill="none"/>
<text x="1805.30" y="672.80" font-size="14.5" text-anchor="middle" fill="#141414"  xml:space="preserve">2</text>
<circle cx="1832.30" cy="667.50" r="8.60" stroke="#141414" stroke-width="1.0" fill="none"/>
<text x="1832.30" y="672.80" font-size="14.5" text-anchor="middle" fill="#141414"  xml:space="preserve">3</text>
<circle cx="1860.30" cy="667.50" r="8.60" stroke="#141414" stroke-width="1.0" fill="none"/>
<text x="1860.30" y="672.80" font-size="14.5" text-anchor="middle" fill="#141414"  xml:space="preserve">4</text>
<circle cx="1897.00" cy="667.50" r="8.60" stroke="#141414" stroke-width="1.0" fill="none"/>
<text x="1897.00" y="672.80" font-size="14.5" text-anchor="middle" fill="#141414"  xml:space="preserve">5</text>
<circle cx="1941.00" cy="667.50" r="8.60" stroke="#141414" stroke-width="1.0" fill="none"/>
<text x="1941.00" y="672.80" font-size="14.5" text-anchor="middle" fill="#141414"  xml:space="preserve">6</text>
<circle cx="1740.80" cy="711.30" r="9.80" stroke="#141414" stroke-width="1.1" fill="none"/>
<text x="1740.80" y="717.50" font-size="17" text-anchor="middle" fill="#141414"  xml:space="preserve">1</text>
<circle cx="1740.80" cy="748.80" r="9.80" stroke="#141414" stroke-width="1.1" fill="none"/>
<text x="1740.80" y="755.00" font-size="17" text-anchor="middle" fill="#141414"  xml:space="preserve">2</text>
<circle cx="1740.80" cy="787.50" r="9.80" stroke="#141414" stroke-width="1.1" fill="none"/>
<text x="1740.80" y="793.70" font-size="17" text-anchor="middle" fill="#141414"  xml:space="preserve">3</text>
<circle cx="1740.80" cy="824.50" r="9.80" stroke="#141414" stroke-width="1.1" fill="none"/>
<text x="1740.80" y="830.70" font-size="17" text-anchor="middle" fill="#141414"  xml:space="preserve">4</text>
<circle cx="1740.80" cy="862.00" r="9.80" stroke="#141414" stroke-width="1.1" fill="none"/>
<text x="1740.80" y="868.20" font-size="17" text-anchor="middle" fill="#141414"  xml:space="preserve">5</text>
<circle cx="1740.80" cy="900.00" r="9.80" stroke="#141414" stroke-width="1.1" fill="none"/>
<text x="1740.80" y="906.20" font-size="17" text-anchor="middle" fill="#141414"  xml:space="preserve">6</text>
<text x="1758.00" y="719.00" font-size="23.1" textLength="105.75" lengthAdjust="spacingAndGlyphs" fill="#141414"  xml:space="preserve">Series No.</text>
<text x="1758.00" y="756.40" font-size="23.1" fill="#141414"  xml:space="preserve">Category</text>
<rect x="1855.2" y="745.8" width="2.6" height="2.8" fill="#111"/><rect x="1855.2" y="753.8" width="2.6" height="2.8" fill="#111"/>
<text x="1876.30" y="756.40" font-size="23.1" textLength="111.25" lengthAdjust="spacingAndGlyphs" fill="#141414"  xml:space="preserve">W-WAFER</text>
<text x="1758.50" y="794.90" font-size="23.1" textLength="210.30" lengthAdjust="spacingAndGlyphs" fill="#141414"  xml:space="preserve">Welding Board Angle</text>
<rect x="1972.5" y="784.3" width="2.6" height="2.8" fill="#111"/><rect x="1972.5" y="792.3" width="2.6" height="2.8" fill="#111"/>
<text x="1993.00" y="794.90" font-size="23.1" textLength="149.00" lengthAdjust="spacingAndGlyphs" fill="#141414"  xml:space="preserve">V-180° ; R-90°</text>
<text x="1757.50" y="832.30" font-size="23.1" textLength="347.00" lengthAdjust="spacingAndGlyphs" fill="#141414"  xml:space="preserve">Row No.-Pin No.:  XX-Single Row</text>
<text x="1757.50" y="870.00" font-size="23.1" textLength="275.75" lengthAdjust="spacingAndGlyphs" fill="#141414"  xml:space="preserve">Material:  N0 -PA66  94V-0</text>
<text x="1757.50" y="908.00" font-size="23.1" textLength="467.50" lengthAdjust="spacingAndGlyphs" fill="#141414"  xml:space="preserve">Plating Category: SN-Bright Tin Plating (70u")</text>
<rect x="272.30" y="327.20" width="551.50" height="173.20" stroke="#141414" stroke-width="1.3" fill="none"/>
<path d="M286.60,442.40 L286.60,341.40 L808.70,341.40 L808.70,442.40" stroke="#141414" stroke-width="1.3" fill="none" />
<path d="M296.40,478.30 L296.40,349.60 L800.00,349.60 L800.00,478.30" stroke="#141414" stroke-width="1.3" fill="none" />
<line x1="286.60" y1="341.40" x2="296.40" y2="349.60" stroke="#141414" stroke-width="1.0" />
<line x1="808.70" y1="341.40" x2="800.00" y2="349.60" stroke="#141414" stroke-width="1.0" />
<line x1="272.30" y1="442.40" x2="296.40" y2="442.40" stroke="#141414" stroke-width="1.3" />
<line x1="800.00" y1="442.40" x2="823.80" y2="442.40" stroke="#141414" stroke-width="1.3" />
<line x1="272.30" y1="478.30" x2="823.80" y2="478.30" stroke="#141414" stroke-width="1.3" />
<line x1="333.00" y1="478.30" x2="333.00" y2="500.40" stroke="#141414" stroke-width="1.3" />
<line x1="346.00" y1="478.30" x2="346.00" y2="500.40" stroke="#141414" stroke-width="1.3" />
<line x1="380.30" y1="478.30" x2="380.30" y2="500.40" stroke="#141414" stroke-width="1.3" />
<line x1="715.50" y1="478.30" x2="715.50" y2="500.40" stroke="#141414" stroke-width="1.3" />
<line x1="749.30" y1="478.30" x2="749.30" y2="500.40" stroke="#141414" stroke-width="1.3" />
<line x1="762.60" y1="478.30" x2="762.60" y2="500.40" stroke="#141414" stroke-width="1.3" />
<rect x="341.20" y="415.10" width="19.60" height="19.60" stroke="#111" stroke-width="1.0" fill="none"/>
<rect x="342.50" y="416.40" width="17.00" height="17.00" stroke="#777" stroke-width="0.5" fill="none"/>
<rect x="344.40" y="418.30" width="13.20" height="13.20" stroke="#222" stroke-width="0.9" fill="none"/>
<line x1="342.50" y1="416.40" x2="344.40" y2="418.30" stroke="#666" stroke-width="0.5" />
<line x1="342.50" y1="433.40" x2="344.40" y2="431.50" stroke="#666" stroke-width="0.5" />
<line x1="359.50" y1="416.40" x2="357.60" y2="418.30" stroke="#666" stroke-width="0.5" />
<line x1="359.50" y1="433.40" x2="357.60" y2="431.50" stroke="#666" stroke-width="0.5" />
<line x1="351.00" y1="408.20" x2="351.00" y2="441.70" stroke="#4d4d4d" stroke-width="1.4" />
<rect x="419.90" y="415.10" width="19.60" height="19.60" stroke="#111" stroke-width="1.0" fill="none"/>
<rect x="421.20" y="416.40" width="17.00" height="17.00" stroke="#777" stroke-width="0.5" fill="none"/>
<rect x="423.10" y="418.30" width="13.20" height="13.20" stroke="#222" stroke-width="0.9" fill="none"/>
<line x1="421.20" y1="416.40" x2="423.10" y2="418.30" stroke="#666" stroke-width="0.5" />
<line x1="421.20" y1="433.40" x2="423.10" y2="431.50" stroke="#666" stroke-width="0.5" />
<line x1="438.20" y1="416.40" x2="436.30" y2="418.30" stroke="#666" stroke-width="0.5" />
<line x1="438.20" y1="433.40" x2="436.30" y2="431.50" stroke="#666" stroke-width="0.5" />
<line x1="429.70" y1="408.20" x2="429.70" y2="441.70" stroke="#4d4d4d" stroke-width="1.4" />
<rect x="498.60" y="415.10" width="19.60" height="19.60" stroke="#111" stroke-width="1.0" fill="none"/>
<rect x="499.90" y="416.40" width="17.00" height="17.00" stroke="#777" stroke-width="0.5" fill="none"/>
<rect x="501.80" y="418.30" width="13.20" height="13.20" stroke="#222" stroke-width="0.9" fill="none"/>
<line x1="499.90" y1="416.40" x2="501.80" y2="418.30" stroke="#666" stroke-width="0.5" />
<line x1="499.90" y1="433.40" x2="501.80" y2="431.50" stroke="#666" stroke-width="0.5" />
<line x1="516.90" y1="416.40" x2="515.00" y2="418.30" stroke="#666" stroke-width="0.5" />
<line x1="516.90" y1="433.40" x2="515.00" y2="431.50" stroke="#666" stroke-width="0.5" />
<line x1="508.40" y1="408.20" x2="508.40" y2="441.70" stroke="#4d4d4d" stroke-width="1.4" />
<rect x="577.30" y="415.10" width="19.60" height="19.60" stroke="#111" stroke-width="1.0" fill="none"/>
<rect x="578.60" y="416.40" width="17.00" height="17.00" stroke="#777" stroke-width="0.5" fill="none"/>
<rect x="580.50" y="418.30" width="13.20" height="13.20" stroke="#222" stroke-width="0.9" fill="none"/>
<line x1="578.60" y1="416.40" x2="580.50" y2="418.30" stroke="#666" stroke-width="0.5" />
<line x1="578.60" y1="433.40" x2="580.50" y2="431.50" stroke="#666" stroke-width="0.5" />
<line x1="595.60" y1="416.40" x2="593.70" y2="418.30" stroke="#666" stroke-width="0.5" />
<line x1="595.60" y1="433.40" x2="593.70" y2="431.50" stroke="#666" stroke-width="0.5" />
<line x1="587.10" y1="408.20" x2="587.10" y2="441.70" stroke="#4d4d4d" stroke-width="1.4" />
<rect x="656.00" y="415.10" width="19.60" height="19.60" stroke="#111" stroke-width="1.0" fill="none"/>
<rect x="657.30" y="416.40" width="17.00" height="17.00" stroke="#777" stroke-width="0.5" fill="none"/>
<rect x="659.20" y="418.30" width="13.20" height="13.20" stroke="#222" stroke-width="0.9" fill="none"/>
<line x1="657.30" y1="416.40" x2="659.20" y2="418.30" stroke="#666" stroke-width="0.5" />
<line x1="657.30" y1="433.40" x2="659.20" y2="431.50" stroke="#666" stroke-width="0.5" />
<line x1="674.30" y1="416.40" x2="672.40" y2="418.30" stroke="#666" stroke-width="0.5" />
<line x1="674.30" y1="433.40" x2="672.40" y2="431.50" stroke="#666" stroke-width="0.5" />
<line x1="665.80" y1="408.20" x2="665.80" y2="441.70" stroke="#4d4d4d" stroke-width="1.4" />
<rect x="734.70" y="415.10" width="19.60" height="19.60" stroke="#111" stroke-width="1.0" fill="none"/>
<rect x="736.00" y="416.40" width="17.00" height="17.00" stroke="#777" stroke-width="0.5" fill="none"/>
<rect x="737.90" y="418.30" width="13.20" height="13.20" stroke="#222" stroke-width="0.9" fill="none"/>
<line x1="736.00" y1="416.40" x2="737.90" y2="418.30" stroke="#666" stroke-width="0.5" />
<line x1="736.00" y1="433.40" x2="737.90" y2="431.50" stroke="#666" stroke-width="0.5" />
<line x1="753.00" y1="416.40" x2="751.10" y2="418.30" stroke="#666" stroke-width="0.5" />
<line x1="753.00" y1="433.40" x2="751.10" y2="431.50" stroke="#666" stroke-width="0.5" />
<line x1="744.50" y1="408.20" x2="744.50" y2="441.70" stroke="#4d4d4d" stroke-width="1.4" />
<line x1="333.40" y1="424.90" x2="398.40" y2="424.90" stroke="#4d4d4d" stroke-width="1.4" />
<line x1="414.10" y1="424.90" x2="429.40" y2="424.90" stroke="#4d4d4d" stroke-width="1.4" />
<line x1="445.50" y1="424.90" x2="524.40" y2="424.90" stroke="#4d4d4d" stroke-width="1.4" />
<line x1="540.00" y1="424.90" x2="556.00" y2="424.90" stroke="#4d4d4d" stroke-width="1.4" />
<line x1="571.40" y1="424.90" x2="650.00" y2="424.90" stroke="#4d4d4d" stroke-width="1.4" />
<line x1="665.90" y1="424.90" x2="681.70" y2="424.90" stroke="#4d4d4d" stroke-width="1.4" />
<line x1="697.70" y1="424.90" x2="762.10" y2="424.90" stroke="#4d4d4d" stroke-width="1.4" />
<line x1="772.10" y1="424.90" x2="861.40" y2="424.90" stroke="#4d4d4d" stroke-width="1.4" />
<line x1="351.00" y1="450.80" x2="351.00" y2="610.60" stroke="#4d4d4d" stroke-width="1.3" />
<line x1="744.50" y1="450.80" x2="744.50" y2="610.60" stroke="#4d4d4d" stroke-width="1.3" />
<line x1="429.70" y1="450.80" x2="429.70" y2="560.00" stroke="#4d4d4d" stroke-width="1.3" />
<line x1="508.40" y1="450.80" x2="508.40" y2="560.00" stroke="#141414" stroke-width="1.3" />
<line x1="429.70" y1="550.50" x2="686.70" y2="550.50" stroke="#141414" stroke-width="1.2" />
<polygon points="429.70,550.50 453.20,546.50 453.20,554.50" fill="#000"/>
<polygon points="508.40,550.50 484.90,554.50 484.90,546.50" fill="#000"/>
<text x="543.00" y="540.70" font-size="31.0" textLength="133.90" lengthAdjust="spacingAndGlyphs" fill="#141414"  xml:space="preserve">2.50±0.10</text>
<circle cx="707.30" cy="531.50" r="14.90" stroke="#141414" stroke-width="1.2" fill="none"/>
<text x="707.30" y="537.62" font-size="17" text-anchor="middle" fill="#141414"  xml:space="preserve">01</text>
<line x1="351.00" y1="601.80" x2="744.50" y2="601.80" stroke="#141414" stroke-width="1.2" />
<polygon points="351.00,601.80 374.50,597.80 374.50,605.80" fill="#000"/>
<polygon points="744.50,601.80 721.00,605.80 721.00,597.80" fill="#000"/>
<text x="508.70" y="592.00" font-size="31.0" textLength="95.30" lengthAdjust="spacingAndGlyphs" fill="#141414"  xml:space="preserve">A±0.25</text>
<circle cx="628.90" cy="582.80" r="14.90" stroke="#141414" stroke-width="1.2" fill="none"/>
<text x="628.90" y="588.92" font-size="17" text-anchor="middle" fill="#141414"  xml:space="preserve">02</text>
<line x1="832.90" y1="500.40" x2="861.40" y2="500.40" stroke="#141414" stroke-width="1.2" />
<line x1="851.70" y1="424.90" x2="851.70" y2="679.20" stroke="#141414" stroke-width="1.2" />
<polygon points="851.70,424.90 855.70,449.90 847.70,449.90" fill="#000"/>
<polygon points="851.70,500.40 847.70,475.40 855.70,475.40" fill="#000"/>
<text x="842.30" y="670.40" font-size="31.0" textLength="133.30" lengthAdjust="spacingAndGlyphs" transform="rotate(-90 842.30 670.40)" fill="#141414"  xml:space="preserve">2.40±0.20</text>
<circle cx="872.30" cy="600.80" r="14.90" stroke="#141414" stroke-width="1.2" fill="none"/>
<text x="872.30" y="606.92" font-size="17" text-anchor="middle" fill="#141414"  xml:space="preserve">03</text>
<path d="M270.10,1041.20 L270.10,820.90 L817.90,820.90 L817.90,1041.20" stroke="#141414" stroke-width="1.3" fill="none" />
<path d="M270.1,1041.2 L319.30,1041.2 L319.30,1023.6 L373.60,1023.6 L373.60,1041.2 L398.30,1041.2 L398.30,1023.6 L452.60,1023.6 L452.60,1041.2 L477.30,1041.2 L477.30,1023.6 L531.60,1023.6 L531.60,1041.2 L556.30,1041.2 L556.30,1023.6 L610.60,1023.6 L610.60,1041.2 L635.30,1041.2 L635.30,1023.6 L689.60,1023.6 L689.60,1041.2 L714.50,1041.2 L714.50,1023.6 L768.40,1023.6 L768.40,1041.2 L817.9,1041.2" stroke="#141414" stroke-width="1.3" fill="none" />
<line x1="319.30" y1="1032.40" x2="373.60" y2="1032.40" stroke="#141414" stroke-width="1.3" />
<line x1="398.30" y1="1032.40" x2="452.60" y2="1032.40" stroke="#141414" stroke-width="1.3" />
<line x1="477.30" y1="1032.40" x2="531.60" y2="1032.40" stroke="#141414" stroke-width="1.3" />
<line x1="556.30" y1="1032.40" x2="610.60" y2="1032.40" stroke="#141414" stroke-width="1.3" />
<line x1="635.30" y1="1032.40" x2="689.60" y2="1032.40" stroke="#141414" stroke-width="1.3" />
<line x1="714.50" y1="1032.40" x2="768.40" y2="1032.40" stroke="#141414" stroke-width="1.3" />
<path d="M337.20,1032.40 L337.20,1137.40 L341.40,1146.40 L352.10,1146.40 L356.30,1137.40 L356.30,1032.40" stroke="#333" stroke-width="1.3" fill="none" />
<line x1="337.20" y1="1137.40" x2="356.30" y2="1137.40" stroke="#333" stroke-width="1.1" />
<path d="M415.90,1032.40 L415.90,1137.40 L420.10,1146.40 L431.20,1146.40 L435.40,1137.40 L435.40,1032.40" stroke="#333" stroke-width="1.3" fill="none" />
<line x1="415.90" y1="1137.40" x2="435.40" y2="1137.40" stroke="#333" stroke-width="1.1" />
<path d="M494.60,1032.40 L494.60,1137.40 L498.80,1146.40 L509.90,1146.40 L514.10,1137.40 L514.10,1032.40" stroke="#333" stroke-width="1.3" fill="none" />
<line x1="494.60" y1="1137.40" x2="514.10" y2="1137.40" stroke="#333" stroke-width="1.1" />
<path d="M573.30,1032.40 L573.30,1137.40 L577.50,1146.40 L588.60,1146.40 L592.80,1137.40 L592.80,1032.40" stroke="#333" stroke-width="1.3" fill="none" />
<line x1="573.30" y1="1137.40" x2="592.80" y2="1137.40" stroke="#333" stroke-width="1.1" />
<path d="M652.10,1032.40 L652.10,1137.40 L656.30,1146.40 L667.30,1146.40 L671.50,1137.40 L671.50,1032.40" stroke="#333" stroke-width="1.3" fill="none" />
<line x1="652.10" y1="1137.40" x2="671.50" y2="1137.40" stroke="#333" stroke-width="1.1" />
<path d="M731.70,1032.40 L731.70,1137.40 L735.90,1146.40 L746.90,1146.40 L751.10,1137.40 L751.10,1032.40" stroke="#333" stroke-width="1.3" fill="none" />
<line x1="731.70" y1="1137.40" x2="751.10" y2="1137.40" stroke="#333" stroke-width="1.1" />
<path d="M331.20,820.9 L344.20,851.7 L330.40,851.7 L330.40,921.5 A16,16 0 0 0 346.40,937.5 L361.60,937.5 A16,16 0 0 0 377.60,921.5 L377.60,820.9" stroke="#141414" stroke-width="1.3" fill="none" />
<path d="M337.80,835.20 L351.60,835.20 L356.40,843.90 L356.40,937.50" stroke="#141414" stroke-width="1.3" fill="none" />
<line x1="341.40" y1="843.90" x2="356.40" y2="843.90" stroke="#141414" stroke-width="1.3" />
<line x1="337.00" y1="851.70" x2="337.00" y2="933.50" stroke="#555" stroke-width="1.5" />
<path d="M756.80,820.9 L743.80,851.7 L757.60,851.7 L757.60,921.5 A16,16 0 0 1 741.60,937.5 L726.40,937.5 A16,16 0 0 1 710.40,921.5 L710.40,820.9" stroke="#141414" stroke-width="1.3" fill="none" />
<path d="M750.20,835.20 L736.40,835.20 L731.60,843.90 L731.60,937.50" stroke="#141414" stroke-width="1.3" fill="none" />
<line x1="746.60" y1="843.90" x2="731.60" y2="843.90" stroke="#141414" stroke-width="1.3" />
<line x1="751.00" y1="851.70" x2="751.00" y2="933.50" stroke="#555" stroke-width="1.5" />
<line x1="270.10" y1="758.00" x2="270.10" y2="811.30" stroke="#4d4d4d" stroke-width="1.2" />
<line x1="817.90" y1="758.00" x2="817.90" y2="811.30" stroke="#4d4d4d" stroke-width="1.2" />
<line x1="270.10" y1="767.40" x2="817.90" y2="767.40" stroke="#141414" stroke-width="1.2" />
<polygon points="270.10,767.40 293.60,763.40 293.60,771.40" fill="#000"/>
<polygon points="817.90,767.40 794.40,771.40 794.40,763.40" fill="#000"/>
<text x="496.50" y="758.00" font-size="31.0" textLength="93.10" lengthAdjust="spacingAndGlyphs" fill="#141414"  xml:space="preserve">B±0.30</text>
<circle cx="613.80" cy="749.20" r="14.90" stroke="#141414" stroke-width="1.2" fill="none"/>
<text x="613.80" y="755.32" font-size="17" text-anchor="middle" fill="#141414"  xml:space="preserve">04</text>
<line x1="827.30" y1="820.90" x2="881.90" y2="820.90" stroke="#141414" stroke-width="1.2" />
<line x1="749.60" y1="937.70" x2="881.90" y2="937.70" stroke="#141414" stroke-width="1.2" />
<line x1="872.50" y1="820.90" x2="872.50" y2="937.70" stroke="#141414" stroke-width="1.2" />
<polygon points="872.50,820.90 876.50,844.40 868.50,844.40" fill="#000"/>
<polygon points="872.50,937.70 868.50,914.20 876.50,914.20" fill="#000"/>
<text x="862.30" y="907.90" font-size="31.0" textLength="56.40" lengthAdjust="spacingAndGlyphs" transform="rotate(-90 862.30 907.90)" fill="#141414"  xml:space="preserve">3.70</text>
<circle cx="893.20" cy="878.10" r="14.90" stroke="#141414" stroke-width="1.2" fill="none"/>
<text x="893.20" y="884.22" font-size="17" text-anchor="middle" fill="#141414"  xml:space="preserve">05</text>
<line x1="415.90" y1="1146.80" x2="415.90" y2="1195.40" stroke="#4d4d4d" stroke-width="1.2" />
<line x1="435.40" y1="1146.80" x2="435.40" y2="1195.40" stroke="#4d4d4d" stroke-width="1.2" />
<line x1="365.40" y1="1185.60" x2="415.90" y2="1185.60" stroke="#141414" stroke-width="1.2" />
<polygon points="415.90,1185.60 393.60,1189.60 393.60,1181.60" fill="#000"/>
<line x1="415.90" y1="1185.60" x2="638.30" y2="1185.60" stroke="#141414" stroke-width="1.2" />
<polygon points="435.40,1185.60 460.40,1181.60 460.40,1189.60" fill="#000"/>
<text x="494.60" y="1175.00" font-size="31.0" textLength="134.30" lengthAdjust="spacingAndGlyphs" fill="#141414"  xml:space="preserve">0.64±0.10</text>
<circle cx="551.70" cy="1203.80" r="14.90" stroke="#141414" stroke-width="1.2" fill="none"/>
<text x="551.70" y="1209.92" font-size="17" text-anchor="middle" fill="#141414"  xml:space="preserve">06</text>
<line x1="742.70" y1="1138.90" x2="788.80" y2="1207.90" stroke="#141414" stroke-width="1.2" />
<line x1="788.80" y1="1207.90" x2="820.10" y2="1207.90" stroke="#141414" stroke-width="1.2" />
<polygon points="742.70,1138.90 758.58,1155.47 751.93,1159.91" fill="#000"/>
<text x="830.50" y="1218.60" font-size="28.2" textLength="103.50" lengthAdjust="spacingAndGlyphs" fill="#141414"  xml:space="preserve">Circuit 1</text>
<path d="M1063.7,818.8 L1087.2,818.8 L1087.2,927 A18,18 0 0 0 1105.2,945 L1122.9,945 L1122.9,818.8 L1245.4,818.8 L1245.4,1039.2 L1063.7,1039.2 Z" stroke="#141414" stroke-width="1.3" fill="none" />
<path d="M1127.70,1039.20 L1127.70,1137.50 L1131.60,1146.60 L1142.60,1146.60 L1146.40,1137.50 L1146.40,1039.20" stroke="#333" stroke-width="1.3" fill="none" />
<line x1="1127.70" y1="1137.50" x2="1146.40" y2="1137.50" stroke="#333" stroke-width="1.1" />
<line x1="1063.70" y1="757.60" x2="1063.70" y2="809.20" stroke="#4d4d4d" stroke-width="1.2" />
<line x1="1245.40" y1="757.60" x2="1245.40" y2="809.20" stroke="#4d4d4d" stroke-width="1.2" />
<line x1="1063.70" y1="767.40" x2="1245.40" y2="767.40" stroke="#141414" stroke-width="1.2" />
<polygon points="1063.70,767.40 1088.20,763.40 1088.20,771.40" fill="#000"/>
<polygon points="1245.40,767.40 1220.90,771.40 1220.90,763.40" fill="#000"/>
<text x="1087.20" y="757.00" font-size="31.0" textLength="133.80" lengthAdjust="spacingAndGlyphs" fill="#141414"  xml:space="preserve">5.75±0.30</text>
<circle cx="1151.30" cy="716.90" r="15.10" stroke="#141414" stroke-width="1.2" fill="none"/>
<text x="1151.30" y="723.02" font-size="17" text-anchor="middle" fill="#141414"  xml:space="preserve">07</text>
<line x1="1027.40" y1="818.80" x2="1054.30" y2="818.80" stroke="#141414" stroke-width="1.2" />
<line x1="1027.40" y1="945.00" x2="1097.00" y2="945.00" stroke="#141414" stroke-width="1.2" />
<line x1="1036.80" y1="818.80" x2="1036.80" y2="945.00" stroke="#141414" stroke-width="1.2" />
<polygon points="1036.80,818.80 1040.80,842.30 1032.80,842.30" fill="#000"/>
<polygon points="1036.80,945.00 1032.80,921.50 1040.80,921.50" fill="#000"/>
<text x="1026.30" y="908.50" font-size="31.0" textLength="56.80" lengthAdjust="spacingAndGlyphs" transform="rotate(-90 1026.30 908.50)" fill="#141414"  xml:space="preserve">4.00</text>
<circle cx="982.90" cy="881.10" r="15.00" stroke="#141414" stroke-width="1.2" fill="none"/>
<text x="982.90" y="887.22" font-size="17" text-anchor="middle" fill="#141414"  xml:space="preserve">08</text>
<line x1="1254.50" y1="818.80" x2="1326.80" y2="818.80" stroke="#141414" stroke-width="1.2" />
<line x1="1254.70" y1="1039.20" x2="1327.00" y2="1039.20" stroke="#141414" stroke-width="1.2" />
<line x1="1317.50" y1="818.80" x2="1317.50" y2="1039.20" stroke="#141414" stroke-width="1.2" />
<polygon points="1317.50,818.80 1321.50,842.30 1313.50,842.30" fill="#000"/>
<polygon points="1317.50,1039.20 1313.50,1015.70 1321.50,1015.70" fill="#000"/>
<text x="1306.80" y="993.00" font-size="31.0" textLength="133.30" lengthAdjust="spacingAndGlyphs" transform="rotate(-90 1306.80 993.00)" fill="#141414"  xml:space="preserve">7.00±0.30</text>
<circle cx="1339.00" cy="931.50" r="15.00" stroke="#141414" stroke-width="1.2" fill="none"/>
<text x="1339.00" y="937.62" font-size="17" text-anchor="middle" fill="#141414"  xml:space="preserve">09</text>
<line x1="1080.70" y1="1039.20" x2="1080.70" y2="1332.80" stroke="#141414" stroke-width="1.2" />
<line x1="1071.30" y1="1146.60" x2="1122.30" y2="1146.60" stroke="#141414" stroke-width="1.2" />
<polygon points="1080.70,1039.20 1084.70,1064.20 1076.70,1064.20" fill="#000"/>
<polygon points="1080.70,1146.60 1076.70,1122.10 1084.70,1122.10" fill="#000"/>
<text x="1072.20" y="1322.90" font-size="31.0" textLength="133.20" lengthAdjust="spacingAndGlyphs" transform="rotate(-90 1072.20 1322.90)" fill="#141414"  xml:space="preserve">3.20±0.25</text>
<circle cx="1105.90" cy="1258.20" r="15.00" stroke="#141414" stroke-width="1.2" fill="none"/>
<text x="1105.90" y="1264.32" font-size="17" text-anchor="middle" fill="#141414"  xml:space="preserve">10</text>
<path d="M338.00,1324.20 L338.00,1419.60 L807.60,1419.60" stroke="#000" stroke-width="2.1" fill="none" />
<circle cx="373.20" cy="1386.40" r="9.90" stroke="#000" stroke-width="1.7" fill="none"/>
<line x1="373.20" y1="1372.50" x2="373.20" y2="1400.90" stroke="#333" stroke-width="1.1" />
<circle cx="451.80" cy="1386.40" r="9.90" stroke="#000" stroke-width="1.7" fill="none"/>
<line x1="451.80" y1="1372.50" x2="451.80" y2="1400.90" stroke="#333" stroke-width="1.1" />
<circle cx="530.40" cy="1386.40" r="9.90" stroke="#000" stroke-width="1.7" fill="none"/>
<line x1="530.40" y1="1372.50" x2="530.40" y2="1400.90" stroke="#333" stroke-width="1.1" />
<circle cx="609.40" cy="1386.40" r="9.90" stroke="#000" stroke-width="1.7" fill="none"/>
<line x1="609.40" y1="1372.50" x2="609.40" y2="1400.90" stroke="#333" stroke-width="1.1" />
<circle cx="688.00" cy="1386.40" r="9.90" stroke="#000" stroke-width="1.7" fill="none"/>
<line x1="688.00" y1="1372.50" x2="688.00" y2="1400.90" stroke="#333" stroke-width="1.1" />
<circle cx="767.70" cy="1386.40" r="9.90" stroke="#000" stroke-width="1.7" fill="none"/>
<line x1="767.70" y1="1372.50" x2="767.70" y2="1400.90" stroke="#333" stroke-width="1.1" />
<line x1="350.90" y1="1386.40" x2="422.50" y2="1386.40" stroke="#222" stroke-width="1.1" />
<line x1="438.60" y1="1386.40" x2="462.80" y2="1386.40" stroke="#222" stroke-width="1.1" />
<line x1="469.20" y1="1386.40" x2="548.20" y2="1386.40" stroke="#222" stroke-width="1.1" />
<line x1="563.60" y1="1386.40" x2="579.80" y2="1386.40" stroke="#222" stroke-width="1.1" />
<line x1="594.90" y1="1386.40" x2="705.50" y2="1386.40" stroke="#222" stroke-width="1.1" />
<line x1="720.60" y1="1386.40" x2="791.50" y2="1386.40" stroke="#222" stroke-width="1.1" />
<line x1="373.20" y1="1330.60" x2="373.20" y2="1363.20" stroke="#4d4d4d" stroke-width="1.2" />
<line x1="451.80" y1="1330.60" x2="451.80" y2="1363.20" stroke="#4d4d4d" stroke-width="1.2" />
<line x1="373.20" y1="1340.00" x2="630.40" y2="1340.00" stroke="#141414" stroke-width="1.2" />
<polygon points="373.20,1340.00 397.20,1336.00 397.20,1344.00" fill="#000"/>
<polygon points="451.80,1340.00 427.80,1344.00 427.80,1336.00" fill="#000"/>
<text x="486.30" y="1330.00" font-size="34.6" textLength="134.40" lengthAdjust="spacingAndGlyphs" fill="#141414"  xml:space="preserve">2.5±0.10</text>
<line x1="1004.20" y1="1344.50" x2="777.00" y2="1384.70" stroke="#141414" stroke-width="1.2" />
<polygon points="777.00,1384.70 800.92,1376.41 802.31,1384.28" fill="#000"/>
<line x1="708.70" y1="1397.00" x2="758.60" y2="1388.60" stroke="#141414" stroke-width="1.2" />
<polygon points="758.60,1388.60 734.61,1396.69 733.28,1388.81" fill="#000"/>
<text x="834.50" y="1363.00" font-size="34.6" textLength="160.00" lengthAdjust="spacingAndGlyphs" transform="rotate(-10.0 834.50 1363.00)" fill="#141414"  xml:space="preserve">Ø1.0±0.10</text>
<text x="343.50" y="1476.60" font-size="34.9" textLength="393.90" lengthAdjust="spacingAndGlyphs" fill="#141414"  xml:space="preserve">Recommand PCB Layout</text>
<line x1="1256.31" y1="173.31" x2="1571.67" y2="355.71" stroke="#141414" stroke-width="1.15" />
<line x1="1257.49" y1="181.44" x2="1558.36" y2="355.41" stroke="#141414" stroke-width="1.15" />
<line x1="1257.49" y1="197.70" x2="1544.46" y2="363.10" stroke="#141414" stroke-width="1.15" />
<line x1="1256.31" y1="173.31" x2="1183.57" y2="215.59" stroke="#141414" stroke-width="1.15" />
<line x1="1257.49" y1="181.44" x2="1192.00" y2="219.43" stroke="#141414" stroke-width="1.15" />
<line x1="1257.49" y1="197.70" x2="1198.06" y2="232.00" stroke="#141414" stroke-width="1.15" />
<line x1="1257.49" y1="181.44" x2="1257.49" y2="282.41" stroke="#141414" stroke-width="1.15" />
<line x1="1183.57" y1="215.59" x2="1192.00" y2="219.43" stroke="#141414" stroke-width="1.15" />
<path d="M1192.00,219.43 Q1196.58,225.05 1198.06,232.00 " stroke="#141414" stroke-width="1.15" fill="none" />
<line x1="1183.57" y1="215.59" x2="1183.57" y2="240.57" stroke="#141414" stroke-width="1.15" />
<line x1="1198.06" y1="232.00" x2="1198.06" y2="248.70" stroke="#141414" stroke-width="1.15" />
<line x1="1198.06" y1="266.74" x2="1198.06" y2="347.46" stroke="#141414" stroke-width="1.15" />
<line x1="1183.57" y1="268.66" x2="1183.57" y2="353.67" stroke="#141414" stroke-width="1.15" />
<path d="M1139.22,230.67 L1153.71,223.28 L1197.62,248.70" stroke="#141414" stroke-width="1.15" fill="none" />
<line x1="1139.22" y1="230.67" x2="1184.61" y2="256.10" stroke="#141414" stroke-width="1.15" />
<line x1="1184.61" y1="256.10" x2="1197.62" y2="248.70" stroke="#141414" stroke-width="1.15" />
<line x1="1184.61" y1="256.10" x2="1189.49" y2="271.18" stroke="#141414" stroke-width="1.15" />
<line x1="1197.62" y1="248.70" x2="1203.97" y2="262.75" stroke="#141414" stroke-width="1.15" />
<line x1="1189.49" y1="271.18" x2="1203.97" y2="262.75" stroke="#141414" stroke-width="1.15" />
<line x1="1183.57" y1="268.66" x2="1189.49" y2="271.18" stroke="#141414" stroke-width="1.15" />
<line x1="1139.22" y1="230.67" x2="1139.22" y2="415.48" stroke="#141414" stroke-width="1.15" />
<line x1="1198.06" y1="347.46" x2="1183.57" y2="353.67" stroke="#141414" stroke-width="1.15" />
<line x1="1198.06" y1="347.46" x2="1213.44" y2="356.33" stroke="#141414" stroke-width="1.15" />
<line x1="1208.70" y1="352.93" x2="1214.18" y2="350.72" stroke="#141414" stroke-width="1.15" />
<path d="M1183.57,353.67 Q1184.31,361.80 1190.96,365.80 L1200.57,371.41 Q1207.23,374.37 1211.66,369.20 Q1213.44,366.68 1213.58,362.54 " stroke="#141414" stroke-width="1.15" fill="none" />
<line x1="1213.88" y1="277.53" x2="1213.58" y2="362.54" stroke="#141414" stroke-width="1.15" />
<path d="M1213.88,277.83 Q1213.88,274.73 1216.10,273.54 L1228.66,266.45 " stroke="#141414" stroke-width="1.15" fill="none" />
<line x1="1228.66" y1="266.45" x2="1399.88" y2="366.79" stroke="#141414" stroke-width="1.15" />
<line x1="1215.80" y1="274.13" x2="1385.83" y2="372.71" stroke="#141414" stroke-width="1.15" />
<line x1="1385.83" y1="372.71" x2="1399.88" y2="366.79" stroke="#141414" stroke-width="1.15" />
<line x1="1386.57" y1="373.45" x2="1386.57" y2="471.01" stroke="#141414" stroke-width="1.15" />
<line x1="1400.91" y1="366.79" x2="1401.35" y2="465.09" stroke="#141414" stroke-width="1.15" />
<path d="M1234.58,239.10 L1243.00,237.17 L1252.17,241.16 L1243.00,243.53 L1234.58,239.10" stroke="#141414" stroke-width="1.15" fill="none" />
<line x1="1234.58" y1="239.10" x2="1228.66" y2="254.18" stroke="#141414" stroke-width="1.15" />
<line x1="1252.17" y1="241.16" x2="1257.20" y2="252.99" stroke="#141414" stroke-width="1.15" />
<path d="M1228.66,254.47 L1243.00,260.83 L1257.20,253.58" stroke="#141414" stroke-width="1.15" fill="none" />
<line x1="1228.66" y1="254.18" x2="1228.66" y2="266.45" stroke="#141414" stroke-width="1.15" />
<line x1="1243.00" y1="243.53" x2="1243.00" y2="274.85" stroke="#444" stroke-width="1.5" />
<line x1="1257.20" y1="252.99" x2="1257.20" y2="283.17" stroke="#141414" stroke-width="1.15" />
<path d="M1284.10,267.92 L1292.53,266.00 L1301.70,269.99 L1292.53,272.36 L1284.10,267.92" stroke="#141414" stroke-width="1.15" fill="none" />
<line x1="1284.10" y1="267.92" x2="1278.19" y2="283.00" stroke="#141414" stroke-width="1.15" />
<line x1="1301.70" y1="269.99" x2="1306.72" y2="281.82" stroke="#141414" stroke-width="1.15" />
<path d="M1278.19,283.30 L1292.53,289.66 L1306.72,282.41" stroke="#141414" stroke-width="1.15" fill="none" />
<line x1="1278.19" y1="283.00" x2="1278.19" y2="295.47" stroke="#141414" stroke-width="1.15" />
<line x1="1292.53" y1="272.36" x2="1292.53" y2="303.87" stroke="#444" stroke-width="1.5" />
<line x1="1306.72" y1="281.82" x2="1306.72" y2="312.19" stroke="#141414" stroke-width="1.15" />
<path d="M1333.78,296.75 L1342.21,294.83 L1351.37,298.82 L1342.21,301.19 L1333.78,296.75" stroke="#141414" stroke-width="1.15" fill="none" />
<line x1="1333.78" y1="296.75" x2="1327.87" y2="311.83" stroke="#141414" stroke-width="1.15" />
<line x1="1351.37" y1="298.82" x2="1356.40" y2="310.65" stroke="#141414" stroke-width="1.15" />
<path d="M1327.87,312.13 L1342.21,318.49 L1356.40,311.24" stroke="#141414" stroke-width="1.15" fill="none" />
<line x1="1327.87" y1="311.83" x2="1327.87" y2="324.58" stroke="#141414" stroke-width="1.15" />
<line x1="1342.21" y1="301.19" x2="1342.21" y2="332.98" stroke="#444" stroke-width="1.5" />
<line x1="1356.40" y1="310.65" x2="1356.40" y2="341.30" stroke="#141414" stroke-width="1.15" />
<path d="M1393.36,330.58 L1401.79,328.66 L1410.95,332.65 L1401.79,335.01 L1393.36,330.58" stroke="#141414" stroke-width="1.15" fill="none" />
<line x1="1393.36" y1="330.58" x2="1387.45" y2="345.66" stroke="#141414" stroke-width="1.15" />
<line x1="1410.95" y1="332.65" x2="1415.98" y2="344.48" stroke="#141414" stroke-width="1.15" />
<path d="M1387.45,345.96 L1401.79,352.31 L1415.98,345.07" stroke="#141414" stroke-width="1.15" fill="none" />
<line x1="1387.45" y1="345.66" x2="1387.45" y2="359.49" stroke="#141414" stroke-width="1.15" />
<line x1="1401.79" y1="335.01" x2="1401.79" y2="464.38" stroke="#444" stroke-width="1.5" />
<line x1="1415.98" y1="344.48" x2="1415.98" y2="389.72" stroke="#141414" stroke-width="1.15" />
<path d="M1449.10,363.10 L1457.52,361.18 L1466.69,365.17 L1457.52,367.54 L1449.10,363.10" stroke="#141414" stroke-width="1.15" fill="none" />
<line x1="1449.10" y1="363.10" x2="1443.18" y2="378.18" stroke="#141414" stroke-width="1.15" />
<line x1="1466.69" y1="365.17" x2="1471.71" y2="377.00" stroke="#141414" stroke-width="1.15" />
<path d="M1443.18,378.48 L1457.52,384.84 L1471.71,377.59" stroke="#141414" stroke-width="1.15" fill="none" />
<line x1="1443.18" y1="378.18" x2="1443.18" y2="389.83" stroke="#141414" stroke-width="1.15" />
<line x1="1457.52" y1="367.54" x2="1457.52" y2="398.43" stroke="#444" stroke-width="1.5" />
<line x1="1471.71" y1="377.00" x2="1471.71" y2="406.43" stroke="#141414" stroke-width="1.15" />
<line x1="1571.67" y1="355.71" x2="1503.36" y2="395.62" stroke="#141414" stroke-width="1.15" />
<line x1="1558.36" y1="355.41" x2="1496.71" y2="391.93" stroke="#141414" stroke-width="1.15" />
<line x1="1544.46" y1="363.10" x2="1496.71" y2="391.93" stroke="#141414" stroke-width="1.5" />
<line x1="1496.71" y1="391.93" x2="1489.32" y2="395.18" stroke="#141414" stroke-width="1.15" />
<path d="M1496.71,391.93 Q1501.89,392.52 1503.36,395.92 " stroke="#141414" stroke-width="1.15" fill="none" />
<line x1="1489.02" y1="395.18" x2="1489.02" y2="486.53" stroke="#141414" stroke-width="1.15" />
<line x1="1503.36" y1="395.62" x2="1503.36" y2="493.18" stroke="#141414" stroke-width="1.15" />
<line x1="1571.67" y1="355.71" x2="1571.67" y2="533.84" stroke="#141414" stroke-width="1.15" />
<path d="M1416.88,390.89 Q1422.79,385.27 1432.40,383.80 L1474.83,408.49 " stroke="#141414" stroke-width="1.15" fill="none" />
<line x1="1416.88" y1="391.19" x2="1461.53" y2="415.88" stroke="#141414" stroke-width="1.15" />
<line x1="1461.53" y1="415.88" x2="1474.83" y2="408.49" stroke="#141414" stroke-width="1.15" />
<line x1="1461.53" y1="415.88" x2="1461.53" y2="597.41" stroke="#141414" stroke-width="1.15" />
<line x1="1474.83" y1="408.49" x2="1474.83" y2="489.49" stroke="#141414" stroke-width="1.15" />
<path d="M1416.88,390.89 Q1411.70,396.36 1409.78,403.02 L1416.88,407.45 " stroke="#141414" stroke-width="1.15" fill="none" />
<line x1="1417.17" y1="407.45" x2="1417.17" y2="479.14" stroke="#141414" stroke-width="1.15" />
<line x1="1474.83" y1="443.67" x2="1488.58" y2="450.62" stroke="#141414" stroke-width="1.15" />
<line x1="1571.67" y1="533.84" x2="1461.53" y2="597.41" stroke="#141414" stroke-width="1.15" />
<path d="M1474.83,489.49 Q1475.27,500.57 1489.32,502.50 Q1501.15,502.05 1503.36,493.18 " stroke="#141414" stroke-width="1.15" fill="none" />
<line x1="1489.02" y1="486.53" x2="1475.27" y2="492.74" stroke="#141414" stroke-width="1.15" />
<line x1="1489.02" y1="486.53" x2="1503.36" y2="493.18" stroke="#141414" stroke-width="1.15" />
<path d="M1386.57,471.01 Q1387.31,478.40 1393.22,482.09 L1403.57,488.30 Q1410.96,491.70 1415.40,486.53 Q1417.17,483.57 1417.17,479.14 " stroke="#141414" stroke-width="1.15" fill="none" />
<line x1="1401.35" y1="465.09" x2="1387.01" y2="471.01" stroke="#141414" stroke-width="1.15" />
<line x1="1401.35" y1="465.09" x2="1416.88" y2="473.52" stroke="#141414" stroke-width="1.15" />
<line x1="1411.70" y1="470.27" x2="1417.17" y2="468.05" stroke="#141414" stroke-width="1.15" />
<line x1="1139.22" y1="415.48" x2="1165.54" y2="430.56" stroke="#141414" stroke-width="1.15" />
<line x1="1165.54" y1="408.83" x2="1165.54" y2="430.56" stroke="#141414" stroke-width="1.15" />
<line x1="1165.54" y1="408.83" x2="1208.70" y2="433.52" stroke="#141414" stroke-width="1.15" />
<line x1="1165.54" y1="430.56" x2="1183.28" y2="419.62" stroke="#141414" stroke-width="1.15" />
<line x1="1208.70" y1="433.52" x2="1209.15" y2="452.44" stroke="#141414" stroke-width="1.15" />
<line x1="1209.15" y1="452.44" x2="1229.70" y2="464.27" stroke="#141414" stroke-width="1.15" />
<line x1="1229.70" y1="446.53" x2="1229.70" y2="490.14" stroke="#141414" stroke-width="1.15" />
<line x1="1229.70" y1="446.53" x2="1263.41" y2="465.45" stroke="#141414" stroke-width="1.15" />
<line x1="1229.70" y1="464.27" x2="1244.93" y2="455.69" stroke="#141414" stroke-width="1.15" />
<line x1="1244.93" y1="455.69" x2="1244.93" y2="514.24" stroke="#444" stroke-width="1.5" />
<line x1="1258.97" y1="462.79" x2="1258.97" y2="492.36" stroke="#141414" stroke-width="1.15" />
<line x1="1263.41" y1="465.45" x2="1263.70" y2="483.49" stroke="#141414" stroke-width="1.15" />
<line x1="1263.70" y1="483.49" x2="1283.81" y2="495.32" stroke="#141414" stroke-width="1.15" />
<path d="M1229.70,490.14 L1237.09,510.84 Q1244.48,517.20 1251.87,511.58 L1258.97,492.36 " stroke="#141414" stroke-width="1.15" fill="none" />
<path d="M1229.85,490.88 C1232.66,499.75 1238.57,502.71 1244.93,502.71 C1251.14,502.71 1257.05,499.01 1258.82,492.66 " stroke="#141414" stroke-width="1.15" fill="none" />
<line x1="1283.81" y1="477.58" x2="1283.81" y2="521.19" stroke="#141414" stroke-width="1.15" />
<line x1="1283.81" y1="477.58" x2="1317.52" y2="496.50" stroke="#141414" stroke-width="1.15" />
<line x1="1283.81" y1="495.32" x2="1299.04" y2="486.74" stroke="#141414" stroke-width="1.15" />
<line x1="1299.04" y1="486.74" x2="1299.04" y2="545.29" stroke="#444" stroke-width="1.5" />
<line x1="1313.08" y1="493.84" x2="1313.08" y2="523.41" stroke="#141414" stroke-width="1.15" />
<line x1="1317.52" y1="496.50" x2="1317.81" y2="514.54" stroke="#141414" stroke-width="1.15" />
<line x1="1317.81" y1="514.54" x2="1338.51" y2="526.66" stroke="#141414" stroke-width="1.15" />
<path d="M1283.81,521.19 L1291.20,541.89 Q1298.59,548.24 1305.98,542.63 L1313.08,523.41 " stroke="#141414" stroke-width="1.15" fill="none" />
<path d="M1283.96,521.93 C1286.77,530.80 1292.68,533.76 1299.04,533.76 C1305.25,533.76 1311.16,530.06 1312.93,523.70 " stroke="#141414" stroke-width="1.15" fill="none" />
<line x1="1338.51" y1="508.92" x2="1338.51" y2="552.53" stroke="#141414" stroke-width="1.15" />
<line x1="1338.51" y1="508.92" x2="1372.22" y2="527.84" stroke="#141414" stroke-width="1.15" />
<line x1="1338.51" y1="526.66" x2="1353.74" y2="518.08" stroke="#141414" stroke-width="1.15" />
<line x1="1353.74" y1="518.08" x2="1353.74" y2="576.63" stroke="#444" stroke-width="1.5" />
<line x1="1367.78" y1="525.18" x2="1367.78" y2="554.75" stroke="#141414" stroke-width="1.15" />
<line x1="1372.22" y1="527.84" x2="1372.51" y2="545.88" stroke="#141414" stroke-width="1.15" />
<line x1="1372.51" y1="545.88" x2="1392.47" y2="558.15" stroke="#141414" stroke-width="1.15" />
<path d="M1338.51,552.53 L1345.90,573.23 Q1353.29,579.59 1360.69,573.97 L1367.78,554.75 " stroke="#141414" stroke-width="1.15" fill="none" />
<path d="M1338.66,553.27 C1341.47,562.14 1347.38,565.10 1353.74,565.10 C1359.95,565.10 1365.86,561.40 1367.63,555.04 " stroke="#141414" stroke-width="1.15" fill="none" />
<line x1="1392.47" y1="540.41" x2="1392.47" y2="584.02" stroke="#141414" stroke-width="1.15" />
<line x1="1392.47" y1="540.41" x2="1426.18" y2="559.33" stroke="#141414" stroke-width="1.15" />
<line x1="1392.47" y1="558.15" x2="1407.70" y2="549.57" stroke="#141414" stroke-width="1.15" />
<line x1="1407.70" y1="549.57" x2="1407.70" y2="608.12" stroke="#444" stroke-width="1.5" />
<line x1="1421.74" y1="556.67" x2="1421.74" y2="586.24" stroke="#141414" stroke-width="1.15" />
<line x1="1426.18" y1="559.33" x2="1426.48" y2="577.37" stroke="#141414" stroke-width="1.15" />
<line x1="1426.48" y1="577.37" x2="1461.53" y2="597.41" stroke="#141414" stroke-width="1.15" />
<path d="M1392.47,584.02 L1399.86,604.72 Q1407.26,611.08 1414.65,605.46 L1421.74,586.24 " stroke="#141414" stroke-width="1.15" fill="none" />
<path d="M1392.62,584.76 C1395.43,593.63 1401.34,596.59 1407.70,596.59 C1413.91,596.59 1419.82,592.89 1421.60,586.53 " stroke="#141414" stroke-width="1.15" fill="none" />
<line x1="1446.45" y1="590.02" x2="1446.45" y2="615.15" stroke="#141414" stroke-width="1.15" />
<line x1="1461.53" y1="597.41" x2="1460.20" y2="638.81" stroke="#444" stroke-width="1.3" />
<line x1="1475.27" y1="590.02" x2="1475.27" y2="617.37" stroke="#141414" stroke-width="1.15" />
<path d="M1446.45,615.15 L1453.84,636.59 Q1460.49,641.76 1469.36,637.03 L1475.27,617.37 " stroke="#141414" stroke-width="1.15" fill="none" />
<path d="M1446.59,616.33 C1449.40,625.50 1456.79,628.46 1460.49,628.46 C1467.14,628.46 1473.06,624.76 1475.13,618.40 " stroke="#141414" stroke-width="1.15" fill="none" />
</svg>
</body></html>
